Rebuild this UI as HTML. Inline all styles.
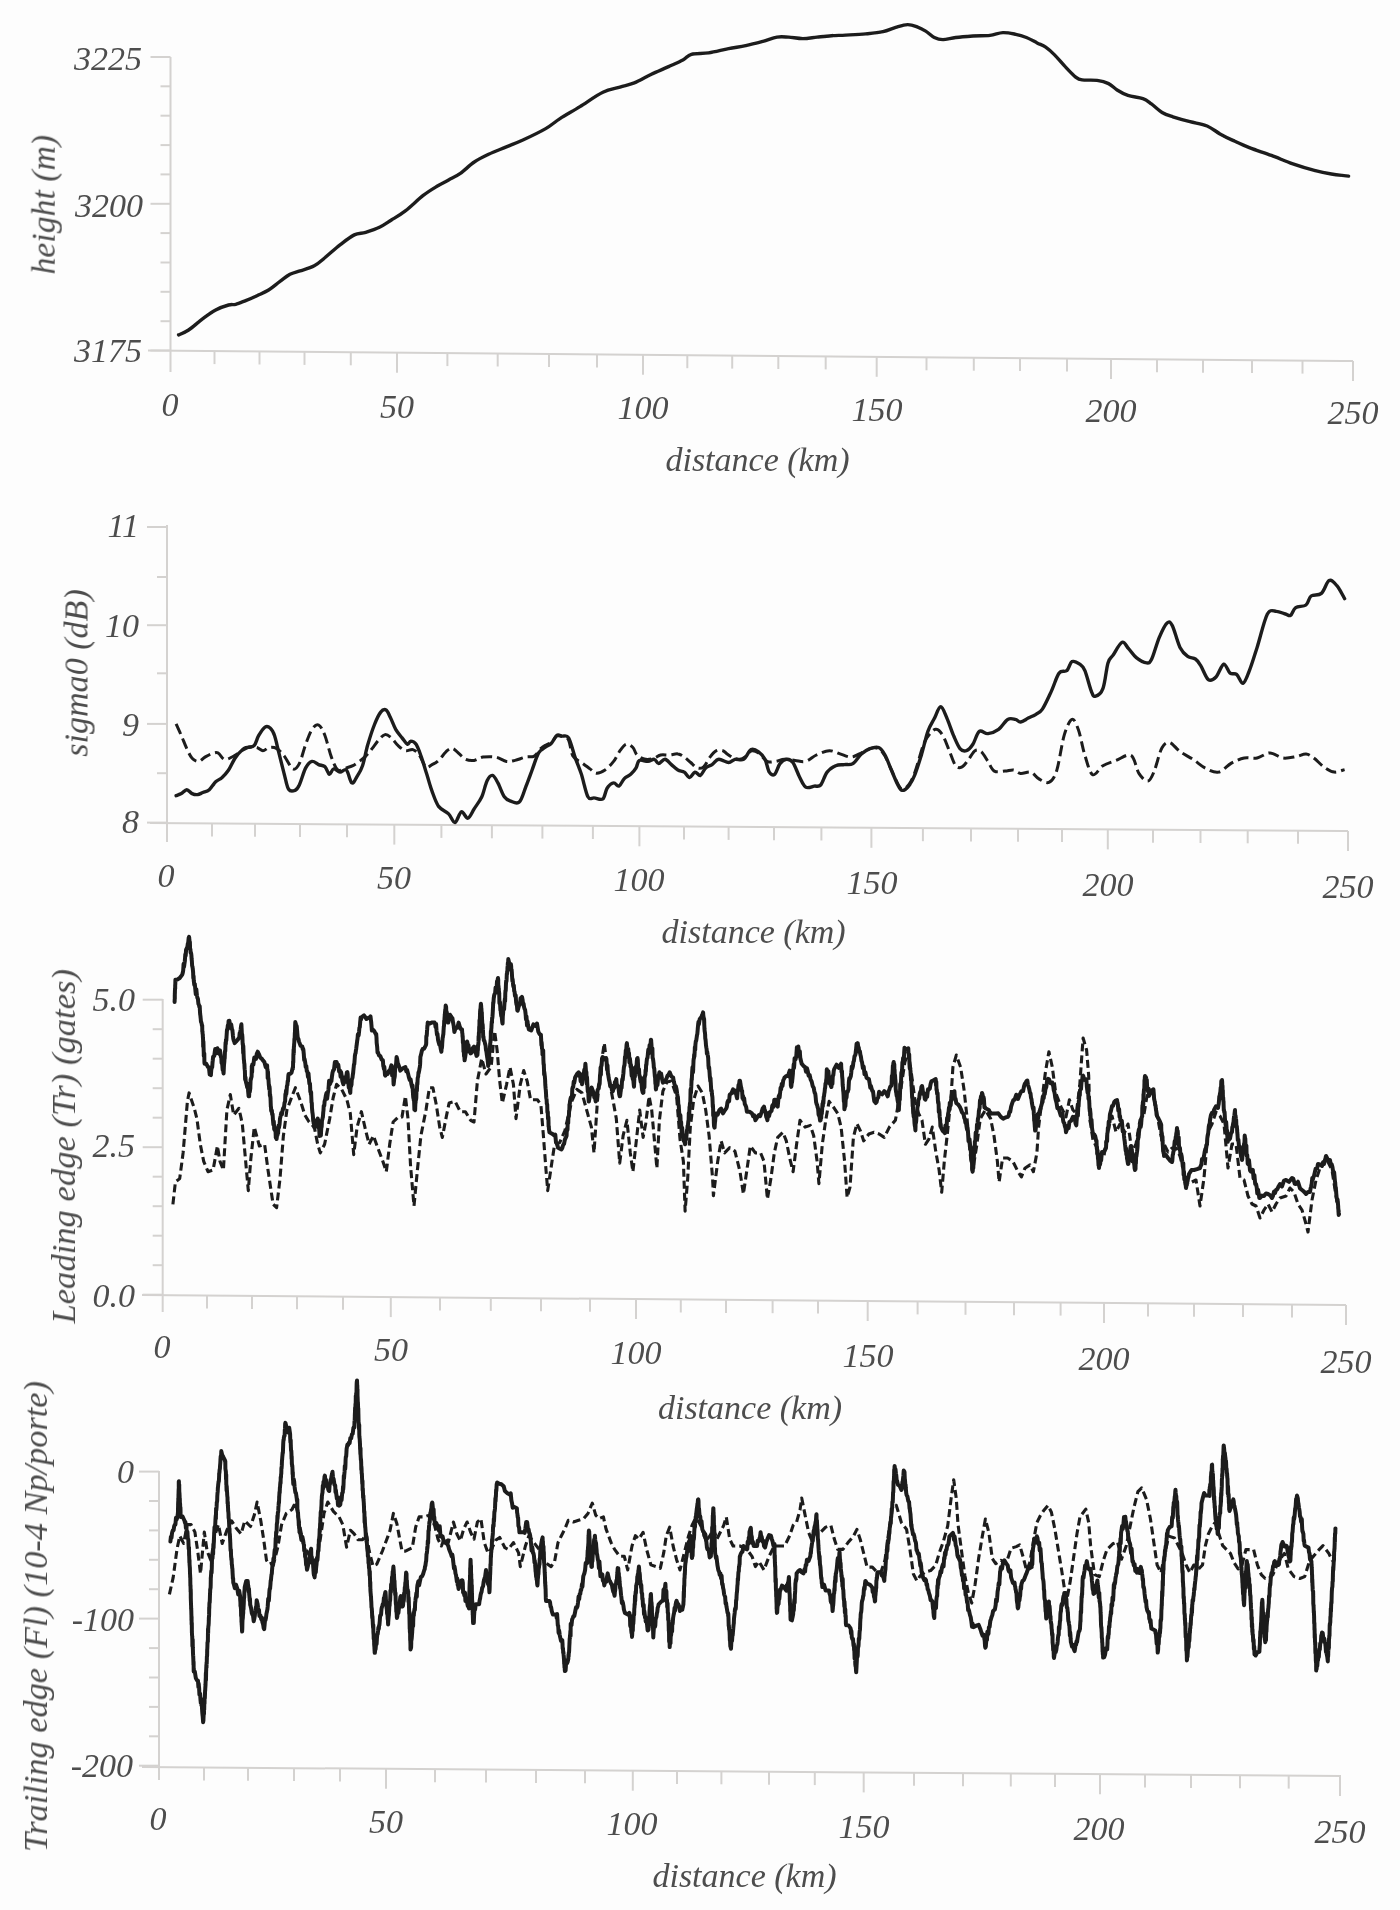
<!DOCTYPE html><html><head><meta charset="utf-8"><style>html,body{margin:0;padding:0;background:#fdfdfd;}svg{display:block}</style></head><body>
<svg width="1400" height="1910" viewBox="0 0 1400 1910">
<rect width="1400" height="1910" fill="#fdfdfd"/>
<defs><filter id="soft" x="-5%" y="-5%" width="110%" height="110%"><feGaussianBlur stdDeviation="0.45"/></filter></defs>
<g filter="url(#soft)">
<g stroke="#d4d2d0" stroke-width="2" fill="none">
<line x1="148" y1="350.5" x2="1353" y2="361"/>
<line x1="170.5" y1="57" x2="170.5" y2="372"/>
<line x1="150.5" y1="57.0" x2="170.5" y2="57.0"/>
<line x1="160.5" y1="86.3" x2="170.5" y2="86.3"/>
<line x1="160.5" y1="115.7" x2="170.5" y2="115.7"/>
<line x1="160.5" y1="145.1" x2="170.5" y2="145.1"/>
<line x1="160.5" y1="174.4" x2="170.5" y2="174.4"/>
<line x1="150.5" y1="203.8" x2="170.5" y2="203.8"/>
<line x1="160.5" y1="233.1" x2="170.5" y2="233.1"/>
<line x1="160.5" y1="262.5" x2="170.5" y2="262.5"/>
<line x1="160.5" y1="291.8" x2="170.5" y2="291.8"/>
<line x1="160.5" y1="321.2" x2="170.5" y2="321.2"/>
<line x1="150.5" y1="350.5" x2="170.5" y2="350.5"/>
<line x1="214.5" y1="351.1" x2="214.5" y2="364.1"/>
<line x1="259.5" y1="351.5" x2="259.5" y2="364.5"/>
<line x1="304.5" y1="351.9" x2="304.5" y2="364.9"/>
<line x1="350.8" y1="352.3" x2="350.8" y2="365.3"/>
<line x1="397.0" y1="352.7" x2="397.0" y2="372.7"/>
<line x1="447.4" y1="353.1" x2="447.4" y2="366.1"/>
<line x1="497.7" y1="353.5" x2="497.7" y2="366.5"/>
<line x1="549.0" y1="354.0" x2="549.0" y2="367.0"/>
<line x1="597.0" y1="354.4" x2="597.0" y2="367.4"/>
<line x1="643.0" y1="354.8" x2="643.0" y2="374.8"/>
<line x1="687.3" y1="355.2" x2="687.3" y2="368.2"/>
<line x1="732.2" y1="355.6" x2="732.2" y2="368.6"/>
<line x1="778.3" y1="356.0" x2="778.3" y2="369.0"/>
<line x1="825.7" y1="356.4" x2="825.7" y2="369.4"/>
<line x1="876.7" y1="356.8" x2="876.7" y2="376.8"/>
<line x1="926.5" y1="357.3" x2="926.5" y2="370.3"/>
<line x1="973.8" y1="357.7" x2="973.8" y2="370.7"/>
<line x1="1020.0" y1="358.1" x2="1020.0" y2="371.1"/>
<line x1="1067.0" y1="358.5" x2="1067.0" y2="371.5"/>
<line x1="1111.0" y1="358.9" x2="1111.0" y2="378.9"/>
<line x1="1157.0" y1="359.3" x2="1157.0" y2="372.3"/>
<line x1="1203.0" y1="359.7" x2="1203.0" y2="372.7"/>
<line x1="1252.0" y1="360.1" x2="1252.0" y2="373.1"/>
<line x1="1302.5" y1="360.6" x2="1302.5" y2="373.6"/>
<line x1="1353.0" y1="361.0" x2="1353.0" y2="381.0"/>
<line x1="150" y1="823" x2="1348" y2="831"/>
<line x1="167" y1="525" x2="167" y2="842"/>
<line x1="147" y1="527.0" x2="167" y2="527.0"/>
<line x1="157" y1="577.0" x2="167" y2="577.0"/>
<line x1="147" y1="625.2" x2="167" y2="625.2"/>
<line x1="157" y1="673.3" x2="167" y2="673.3"/>
<line x1="147" y1="723.9" x2="167" y2="723.9"/>
<line x1="157" y1="773.2" x2="167" y2="773.2"/>
<line x1="147" y1="822.6" x2="167" y2="822.6"/>
<line x1="212.0" y1="823.4" x2="212.0" y2="836.4"/>
<line x1="255.0" y1="823.7" x2="255.0" y2="836.7"/>
<line x1="300.0" y1="824.0" x2="300.0" y2="837.0"/>
<line x1="347.0" y1="824.3" x2="347.0" y2="837.3"/>
<line x1="394.3" y1="824.6" x2="394.3" y2="844.6"/>
<line x1="441.4" y1="824.9" x2="441.4" y2="837.9"/>
<line x1="491.9" y1="825.3" x2="491.9" y2="838.3"/>
<line x1="542.4" y1="825.6" x2="542.4" y2="838.6"/>
<line x1="592.9" y1="826.0" x2="592.9" y2="839.0"/>
<line x1="639.4" y1="826.3" x2="639.4" y2="846.3"/>
<line x1="684.0" y1="826.6" x2="684.0" y2="839.6"/>
<line x1="728.6" y1="826.9" x2="728.6" y2="839.9"/>
<line x1="774.0" y1="827.2" x2="774.0" y2="840.2"/>
<line x1="821.4" y1="827.5" x2="821.4" y2="840.5"/>
<line x1="871.4" y1="827.8" x2="871.4" y2="847.8"/>
<line x1="922.9" y1="828.2" x2="922.9" y2="841.2"/>
<line x1="971.0" y1="828.5" x2="971.0" y2="841.5"/>
<line x1="1018.0" y1="828.8" x2="1018.0" y2="841.8"/>
<line x1="1062.0" y1="829.1" x2="1062.0" y2="842.1"/>
<line x1="1107.8" y1="829.4" x2="1107.8" y2="849.4"/>
<line x1="1153.0" y1="829.7" x2="1153.0" y2="842.7"/>
<line x1="1200.5" y1="830.0" x2="1200.5" y2="843.0"/>
<line x1="1247.7" y1="830.3" x2="1247.7" y2="843.3"/>
<line x1="1298.0" y1="830.7" x2="1298.0" y2="843.7"/>
<line x1="1348.0" y1="831.0" x2="1348.0" y2="851.0"/>
<line x1="142" y1="1295" x2="1346" y2="1305"/>
<line x1="162.7" y1="999" x2="162.7" y2="1312"/>
<line x1="142.7" y1="999.7" x2="162.7" y2="999.7"/>
<line x1="152.7" y1="1029.2" x2="162.7" y2="1029.2"/>
<line x1="152.7" y1="1058.7" x2="162.7" y2="1058.7"/>
<line x1="152.7" y1="1088.2" x2="162.7" y2="1088.2"/>
<line x1="152.7" y1="1117.7" x2="162.7" y2="1117.7"/>
<line x1="142.7" y1="1147.2" x2="162.7" y2="1147.2"/>
<line x1="152.7" y1="1176.7" x2="162.7" y2="1176.7"/>
<line x1="152.7" y1="1206.2" x2="162.7" y2="1206.2"/>
<line x1="152.7" y1="1235.7" x2="162.7" y2="1235.7"/>
<line x1="152.7" y1="1265.2" x2="162.7" y2="1265.2"/>
<line x1="142.7" y1="1294.7" x2="162.7" y2="1294.7"/>
<line x1="207.0" y1="1295.5" x2="207.0" y2="1308.5"/>
<line x1="252.0" y1="1295.9" x2="252.0" y2="1308.9"/>
<line x1="297.0" y1="1296.3" x2="297.0" y2="1309.3"/>
<line x1="343.0" y1="1296.7" x2="343.0" y2="1309.7"/>
<line x1="390.8" y1="1297.1" x2="390.8" y2="1317.1"/>
<line x1="440.0" y1="1297.5" x2="440.0" y2="1310.5"/>
<line x1="490.8" y1="1297.9" x2="490.8" y2="1310.9"/>
<line x1="541.0" y1="1298.3" x2="541.0" y2="1311.3"/>
<line x1="590.0" y1="1298.7" x2="590.0" y2="1311.7"/>
<line x1="636.0" y1="1299.1" x2="636.0" y2="1319.1"/>
<line x1="680.8" y1="1299.5" x2="680.8" y2="1312.5"/>
<line x1="726.0" y1="1299.9" x2="726.0" y2="1312.9"/>
<line x1="772.6" y1="1300.2" x2="772.6" y2="1313.2"/>
<line x1="818.0" y1="1300.6" x2="818.0" y2="1313.6"/>
<line x1="867.7" y1="1301.0" x2="867.7" y2="1321.0"/>
<line x1="917.6" y1="1301.4" x2="917.6" y2="1314.4"/>
<line x1="965.5" y1="1301.8" x2="965.5" y2="1314.8"/>
<line x1="1014.0" y1="1302.2" x2="1014.0" y2="1315.2"/>
<line x1="1060.6" y1="1302.6" x2="1060.6" y2="1315.6"/>
<line x1="1104.0" y1="1303.0" x2="1104.0" y2="1323.0"/>
<line x1="1148.0" y1="1303.4" x2="1148.0" y2="1316.4"/>
<line x1="1194.0" y1="1303.7" x2="1194.0" y2="1316.7"/>
<line x1="1243.0" y1="1304.1" x2="1243.0" y2="1317.1"/>
<line x1="1292.0" y1="1304.6" x2="1292.0" y2="1317.6"/>
<line x1="1346.0" y1="1305.0" x2="1346.0" y2="1325.0"/>
<line x1="142" y1="1767" x2="1341" y2="1776"/>
<line x1="159" y1="1471" x2="159" y2="1780"/>
<line x1="139" y1="1471.6" x2="159" y2="1471.6"/>
<line x1="149" y1="1501.0" x2="159" y2="1501.0"/>
<line x1="149" y1="1530.4" x2="159" y2="1530.4"/>
<line x1="149" y1="1559.8" x2="159" y2="1559.8"/>
<line x1="149" y1="1589.2" x2="159" y2="1589.2"/>
<line x1="139" y1="1618.6" x2="159" y2="1618.6"/>
<line x1="149" y1="1648.1" x2="159" y2="1648.1"/>
<line x1="149" y1="1677.5" x2="159" y2="1677.5"/>
<line x1="149" y1="1706.9" x2="159" y2="1706.9"/>
<line x1="149" y1="1736.3" x2="159" y2="1736.3"/>
<line x1="139" y1="1765.7" x2="159" y2="1765.7"/>
<line x1="204.0" y1="1767.5" x2="204.0" y2="1780.5"/>
<line x1="248.0" y1="1767.8" x2="248.0" y2="1780.8"/>
<line x1="294.0" y1="1768.1" x2="294.0" y2="1781.1"/>
<line x1="340.0" y1="1768.5" x2="340.0" y2="1781.5"/>
<line x1="386.0" y1="1768.8" x2="386.0" y2="1788.8"/>
<line x1="435.0" y1="1769.2" x2="435.0" y2="1782.2"/>
<line x1="486.0" y1="1769.6" x2="486.0" y2="1782.6"/>
<line x1="536.0" y1="1770.0" x2="536.0" y2="1783.0"/>
<line x1="585.0" y1="1770.3" x2="585.0" y2="1783.3"/>
<line x1="632.8" y1="1770.7" x2="632.8" y2="1790.7"/>
<line x1="677.0" y1="1771.0" x2="677.0" y2="1784.0"/>
<line x1="721.4" y1="1771.3" x2="721.4" y2="1784.3"/>
<line x1="769.0" y1="1771.7" x2="769.0" y2="1784.7"/>
<line x1="814.8" y1="1772.1" x2="814.8" y2="1785.1"/>
<line x1="863.7" y1="1772.4" x2="863.7" y2="1792.4"/>
<line x1="914.0" y1="1772.8" x2="914.0" y2="1785.8"/>
<line x1="963.0" y1="1773.2" x2="963.0" y2="1786.2"/>
<line x1="1010.8" y1="1773.5" x2="1010.8" y2="1786.5"/>
<line x1="1055.0" y1="1773.9" x2="1055.0" y2="1786.9"/>
<line x1="1100.0" y1="1774.2" x2="1100.0" y2="1794.2"/>
<line x1="1145.0" y1="1774.5" x2="1145.0" y2="1787.5"/>
<line x1="1191.0" y1="1774.9" x2="1191.0" y2="1787.9"/>
<line x1="1240.0" y1="1775.2" x2="1240.0" y2="1788.2"/>
<line x1="1288.7" y1="1775.6" x2="1288.7" y2="1788.6"/>
<line x1="1340.0" y1="1776.0" x2="1340.0" y2="1796.0"/>
</g>
<g font-family="Liberation Serif" font-style="italic" font-size="34" fill="#4d4d4d">
<text x="142" y="70" text-anchor="end">3225</text>
<text x="143" y="217" text-anchor="end">3200</text>
<text x="142" y="362" text-anchor="end">3175</text>
<text x="170" y="416.0" text-anchor="middle">0</text>
<text x="397" y="417.6" text-anchor="middle">50</text>
<text x="643" y="419.2" text-anchor="middle">100</text>
<text x="877" y="420.8" text-anchor="middle">150</text>
<text x="1111" y="422.4" text-anchor="middle">200</text>
<text x="1353" y="424.0" text-anchor="middle">250</text>
<text x="757.5" y="471" text-anchor="middle">distance (km)</text>
<text transform="translate(54.7,204.7) rotate(-90)" text-anchor="middle" textLength="139.5" lengthAdjust="spacingAndGlyphs">height (m)</text>
<text x="139" y="537" text-anchor="end">11</text>
<text x="139" y="637" text-anchor="end">10</text>
<text x="139" y="736" text-anchor="end">9</text>
<text x="139" y="833" text-anchor="end">8</text>
<text x="166" y="887.0" text-anchor="middle">0</text>
<text x="394" y="889.2" text-anchor="middle">50</text>
<text x="639" y="891.4" text-anchor="middle">100</text>
<text x="872" y="893.6" text-anchor="middle">150</text>
<text x="1108" y="895.8" text-anchor="middle">200</text>
<text x="1348" y="898.0" text-anchor="middle">250</text>
<text x="753.6" y="943" text-anchor="middle">distance (km)</text>
<text transform="translate(87.5,673) rotate(-90)" text-anchor="middle" textLength="167.6" lengthAdjust="spacingAndGlyphs">sigma0 (dB)</text>
<text x="135" y="1010.5" text-anchor="end">5.0</text>
<text x="135" y="1157" text-anchor="end">2.5</text>
<text x="135" y="1306.5" text-anchor="end">0.0</text>
<text x="162" y="1357.5" text-anchor="middle">0</text>
<text x="391" y="1360.6" text-anchor="middle">50</text>
<text x="636" y="1363.7" text-anchor="middle">100</text>
<text x="868" y="1366.8" text-anchor="middle">150</text>
<text x="1104" y="1369.9" text-anchor="middle">200</text>
<text x="1346" y="1373.0" text-anchor="middle">250</text>
<text x="750" y="1419" text-anchor="middle">distance (km)</text>
<text transform="translate(75,1146.3) rotate(-90)" text-anchor="middle" textLength="354.5" lengthAdjust="spacingAndGlyphs">Leading edge (Tr) (gates)</text>
<text x="134" y="1482.5" text-anchor="end">0</text>
<text x="134" y="1631" text-anchor="end">-100</text>
<text x="133" y="1776.5" text-anchor="end">-200</text>
<text x="158" y="1830.0" text-anchor="middle">0</text>
<text x="386" y="1832.6" text-anchor="middle">50</text>
<text x="632" y="1835.2" text-anchor="middle">100</text>
<text x="864" y="1837.8" text-anchor="middle">150</text>
<text x="1099" y="1840.4" text-anchor="middle">200</text>
<text x="1340" y="1843.0" text-anchor="middle">250</text>
<text x="744.5" y="1887" text-anchor="middle">distance (km)</text>
<text transform="translate(47,1616.5) rotate(-90)" text-anchor="middle" textLength="471" lengthAdjust="spacingAndGlyphs">Trailing edge (Fl) (10-4 Np/porte)</text>
</g>
<g fill="none" stroke="#1c1c1c" stroke-linejoin="round" stroke-linecap="round">
<path stroke-width="3.4" d="M178.6,334.9 C180.3,334.1 184.5,332.7 188.6,330.0 C192.7,327.3 198.4,321.9 202.9,318.6 C207.4,315.3 211.4,312.3 215.7,310.0 C220.0,307.7 225.3,305.9 228.6,305.0 C231.9,304.1 232.8,305.0 235.7,304.3 C238.5,303.6 242.1,302.0 245.7,300.6 C249.2,299.2 253.2,297.5 257.0,295.7 C260.8,293.9 264.8,292.4 268.6,290.0 C272.4,287.6 276.4,284.0 280.0,281.4 C283.6,278.8 286.7,276.1 290.0,274.3 C293.3,272.6 295.9,272.3 300.0,270.9 C304.1,269.5 310.0,268.0 314.3,265.7 C318.6,263.4 321.4,260.5 325.7,257.0 C330.0,253.5 335.2,248.6 340.0,244.9 C344.8,241.2 350.0,237.0 354.3,234.9 C358.6,232.8 361.4,233.6 365.7,232.3 C370.0,231.0 375.7,229.1 380.0,227.0 C384.3,224.9 387.1,222.7 391.4,220.0 C395.7,217.3 400.4,214.7 405.7,210.6 C410.9,206.5 417.7,199.8 422.9,195.7 C428.1,191.6 432.7,188.9 437.0,186.3 C441.3,183.7 444.8,182.1 448.6,180.0 C452.4,177.9 455.7,176.7 460.0,173.7 C464.3,170.7 469.5,165.2 474.3,162.0 C479.1,158.8 483.4,156.8 488.6,154.3 C493.8,151.8 500.0,149.5 505.7,147.1 C511.4,144.7 516.2,143.1 522.9,140.0 C529.6,136.9 539.5,132.2 545.7,128.6 C551.9,125.0 554.3,122.3 560.0,118.6 C565.7,114.9 572.9,111.0 580.0,106.6 C587.1,102.2 596.2,95.5 602.9,92.3 C609.6,89.0 614.8,88.7 620.0,87.1 C625.2,85.5 629.1,85.0 634.3,82.9 C639.5,80.8 645.7,77.0 651.4,74.3 C657.1,71.6 663.4,69.0 668.6,66.6 C673.9,64.2 679.1,62.0 682.9,60.0 C686.7,58.0 687.1,55.5 691.4,54.3 C695.7,53.1 702.4,53.8 708.6,52.9 C714.8,52.0 722.4,49.8 728.6,48.6 C734.8,47.4 740.0,46.9 745.7,45.7 C751.4,44.5 757.7,42.8 762.9,41.4 C768.1,40.0 772.7,37.8 777.0,37.1 C781.3,36.4 784.3,36.9 788.6,37.1 C792.9,37.4 798.2,38.6 802.9,38.6 C807.6,38.6 812.2,37.6 817.0,37.1 C821.8,36.6 826.6,36.0 831.4,35.7 C836.2,35.4 840.0,35.4 845.7,35.1 C851.4,34.8 859.5,34.5 865.7,33.9 C871.9,33.3 877.9,32.8 882.9,31.7 C887.9,30.6 891.6,28.6 895.7,27.4 C899.8,26.2 903.9,24.7 907.5,24.6 C911.1,24.5 914.1,25.7 917.1,26.8 C920.1,27.9 922.8,29.3 925.7,31.1 C928.6,32.9 931.4,36.1 934.3,37.5 C937.2,38.9 939.3,39.6 942.9,39.6 C946.5,39.6 950.7,38.1 955.7,37.5 C960.7,36.9 967.2,36.4 972.9,36.0 C978.6,35.6 985.0,36.0 990.0,35.4 C995.0,34.8 998.6,32.8 1002.9,32.6 C1007.2,32.4 1011.8,33.5 1015.7,34.3 C1019.6,35.1 1022.8,36.1 1026.4,37.5 C1030.0,38.9 1033.9,41.3 1037.1,42.9 C1040.3,44.5 1042.8,45.1 1045.7,47.1 C1048.6,49.1 1051.1,51.4 1054.3,54.6 C1057.5,57.8 1061.4,62.7 1065.0,66.4 C1068.6,70.2 1072.9,74.8 1075.7,77.1 C1078.5,79.3 1078.5,79.4 1082.1,79.9 C1085.7,80.5 1092.7,79.8 1097.1,80.4 C1101.5,81.0 1105.3,82.0 1108.6,83.6 C1111.9,85.2 1113.9,88.0 1117.1,90.0 C1120.3,92.0 1123.6,94.0 1127.9,95.4 C1132.2,96.8 1139.0,97.2 1142.9,98.6 C1146.8,100.0 1148.2,101.6 1151.4,103.9 C1154.6,106.2 1158.5,110.3 1162.1,112.5 C1165.7,114.7 1168.2,115.3 1172.9,116.8 C1177.6,118.3 1184.3,120.2 1190.0,121.7 C1195.7,123.2 1202.1,124.0 1207.1,126.0 C1212.1,128.0 1215.7,131.5 1220.0,133.9 C1224.3,136.3 1227.9,138.1 1232.9,140.4 C1237.9,142.7 1243.6,145.4 1250.0,147.9 C1256.4,150.4 1264.2,152.7 1271.4,155.4 C1278.6,158.1 1285.8,161.4 1292.9,163.9 C1300.1,166.4 1307.9,168.7 1314.3,170.4 C1320.7,172.1 1325.7,173.1 1331.4,174.0 C1337.1,174.9 1345.7,175.8 1348.6,176.1"/>
<path stroke-width="3.4" d="M176.1,795.7 C177.0,795.4 179.6,794.6 181.4,793.6 C183.2,792.6 185.0,789.7 186.8,789.7 C188.6,789.7 190.3,792.8 192.1,793.6 C193.9,794.4 195.7,794.8 197.5,794.6 C199.3,794.4 200.9,793.3 202.9,792.5 C204.9,791.7 207.2,791.5 209.3,789.7 C211.4,787.9 213.6,783.8 215.7,781.8 C217.8,779.8 219.9,779.5 222.1,777.5 C224.2,775.5 226.4,773.2 228.6,770.0 C230.8,766.8 232.9,761.4 235.0,758.2 C237.1,755.0 239.2,752.5 241.4,750.7 C243.6,748.9 245.8,748.4 247.9,747.5 C250.1,746.6 252.5,747.4 254.3,745.4 C256.1,743.4 256.8,738.8 258.6,735.7 C260.4,732.7 263.0,728.4 265.0,727.1 C267.0,725.9 268.8,726.8 270.4,728.2 C272.0,729.6 273.2,731.6 274.6,735.7 C276.0,739.8 277.3,746.5 278.9,752.9 C280.5,759.3 282.7,768.2 284.3,774.3 C285.9,780.4 286.8,786.6 288.6,789.3 C290.4,792.0 293.2,791.1 295.0,790.4 C296.8,789.7 297.5,788.8 299.3,785.0 C301.1,781.2 303.6,771.8 305.7,767.9 C307.8,764.0 310.0,761.9 312.1,761.4 C314.2,760.9 316.5,763.7 318.6,764.6 C320.8,765.5 323.2,765.2 325.0,766.8 C326.8,768.4 327.9,773.9 329.3,774.3 C330.7,774.6 331.8,769.3 333.6,768.9 C335.4,768.5 337.9,771.9 340.0,772.1 C342.1,772.3 344.4,768.2 346.4,770.0 C348.4,771.8 350.0,781.8 351.8,782.9 C353.6,784.0 355.3,779.3 357.1,776.4 C358.9,773.5 360.7,771.1 362.5,765.7 C364.3,760.4 365.9,751.1 367.9,744.3 C369.9,737.5 372.2,730.4 374.3,725.0 C376.4,719.6 378.7,714.6 380.7,712.1 C382.7,709.6 384.5,709.1 386.1,710.0 C387.7,710.9 388.8,714.3 390.4,717.5 C392.0,720.7 393.8,725.9 395.7,729.3 C397.6,732.7 400.1,735.4 402.1,737.9 C404.1,740.4 406.1,743.8 407.5,744.3 C408.9,744.8 409.3,741.1 410.7,741.1 C412.1,741.1 414.3,741.6 416.1,744.3 C417.9,747.0 419.6,752.1 421.4,757.1 C423.2,762.1 425.0,768.6 426.8,774.3 C428.6,780.0 430.1,786.0 432.1,791.4 C434.1,796.8 435.9,802.6 438.6,806.4 C441.4,810.1 445.9,811.2 448.6,813.9 C451.3,816.6 452.9,822.9 455.0,822.5 C457.1,822.1 459.2,812.5 461.4,811.8 C463.5,811.1 465.8,818.7 467.9,818.2 C470.0,817.7 472.0,812.2 474.3,808.6 C476.6,805.0 479.7,801.4 481.8,796.8 C483.9,792.1 485.3,784.3 487.1,780.7 C488.9,777.1 490.7,775.0 492.5,775.4 C494.3,775.8 495.9,779.3 497.9,782.9 C499.9,786.5 502.2,793.8 504.3,796.8 C506.4,799.8 508.2,800.2 510.7,801.1 C513.2,802.0 516.8,804.4 519.3,802.1 C521.8,799.8 523.6,792.5 525.7,787.1 C527.8,781.8 530.0,775.7 532.1,770.0 C534.2,764.3 536.5,756.6 538.6,752.9 C540.8,749.1 542.9,749.1 545.0,747.5 C547.1,745.9 549.4,745.2 551.4,743.2 C553.4,741.2 555.0,736.5 556.8,735.3 C558.6,734.1 560.1,735.7 562.1,736.1 C564.1,736.5 566.5,734.4 568.6,737.9 C570.8,741.4 572.9,751.0 575.0,757.1 C577.1,763.2 579.2,767.7 581.4,774.3 C583.5,780.9 585.8,792.9 587.9,796.8 C590.0,800.7 591.8,797.5 594.3,797.9 C596.8,798.2 600.8,800.5 602.9,798.9 C605.0,797.3 605.3,790.9 607.1,788.2 C608.9,785.5 611.6,783.2 613.6,782.9 C615.6,782.5 617.1,786.8 618.9,786.1 C620.7,785.4 622.3,780.6 624.3,778.6 C626.3,776.6 628.7,776.1 630.7,774.3 C632.7,772.5 634.7,770.2 636.1,767.9 C637.5,765.6 637.3,761.5 639.3,760.4 C641.3,759.3 645.4,761.6 647.9,761.4 C650.4,761.2 652.5,758.9 654.3,759.3 C656.1,759.7 656.8,763.6 658.6,763.6 C660.4,763.6 662.9,759.1 665.0,759.3 C667.1,759.5 669.2,762.8 671.4,764.6 C673.5,766.4 675.8,768.8 677.9,770.0 C680.0,771.2 682.3,770.9 684.3,772.1 C686.2,773.4 687.8,777.5 689.6,777.5 C691.4,777.5 693.2,772.5 695.0,772.1 C696.8,771.8 698.6,776.1 700.4,775.4 C702.2,774.7 703.8,769.7 705.7,767.9 C707.7,766.1 710.0,766.0 712.1,764.6 C714.2,763.2 715.9,759.6 718.6,759.3 C721.4,758.9 725.9,762.5 728.6,762.5 C731.3,762.5 732.5,759.8 735.0,759.3 C737.5,758.8 740.9,760.9 743.6,759.3 C746.3,757.7 748.6,750.9 751.1,749.6 C753.6,748.4 756.3,750.2 758.6,751.8 C760.9,753.4 763.2,755.9 765.0,759.3 C766.8,762.7 767.7,769.6 769.3,772.1 C770.9,774.6 772.8,775.7 774.6,774.3 C776.4,772.9 778.0,766.1 780.0,763.6 C782.0,761.1 784.2,759.5 786.4,759.3 C788.5,759.1 790.8,759.6 792.9,762.5 C795.0,765.4 797.2,772.3 799.3,776.4 C801.4,780.5 803.2,785.5 805.7,787.1 C808.2,788.7 811.8,786.5 814.3,786.1 C816.8,785.8 818.6,787.3 820.7,785.0 C822.8,782.7 824.6,775.3 827.1,772.1 C829.6,768.9 832.8,767.0 835.7,765.7 C838.6,764.5 841.4,765.0 844.3,764.6 C847.2,764.2 850.0,765.4 852.9,763.6 C855.8,761.8 858.5,756.4 861.4,753.9 C864.2,751.4 867.1,749.7 870.0,748.6 C872.9,747.5 876.1,746.4 878.6,747.5 C881.1,748.6 882.9,751.2 885.0,755.0 C887.1,758.8 889.2,765.0 891.4,770.0 C893.5,775.0 896.1,781.6 897.9,785.0 C899.7,788.4 900.3,790.2 902.1,790.4 C903.9,790.6 906.5,788.8 908.6,786.1 C910.8,783.4 912.9,779.5 915.0,774.3 C917.1,769.1 919.2,762.1 921.4,755.0 C923.5,747.9 925.8,737.5 927.9,731.4 C930.0,725.3 932.2,722.7 934.3,718.6 C936.4,714.5 938.6,706.8 940.7,706.8 C942.8,706.8 945.0,713.8 947.1,718.6 C949.2,723.4 951.5,730.7 953.6,735.7 C955.8,740.7 957.9,746.1 960.0,748.6 C962.1,751.1 964.2,751.4 966.4,750.7 C968.5,750.0 970.8,747.5 972.9,744.3 C975.0,741.1 976.8,733.2 979.3,731.4 C981.8,729.6 984.7,734.0 987.9,733.6 C991.1,733.2 995.3,731.7 998.6,729.3 C1001.9,726.9 1004.9,721.0 1007.7,719.4 C1010.5,717.8 1013.2,719.0 1015.4,719.4 C1017.5,719.8 1018.5,722.2 1020.6,722.0 C1022.8,721.8 1025.7,719.4 1028.3,718.1 C1030.9,716.8 1033.7,715.8 1036.0,714.3 C1038.3,712.8 1039.8,713.0 1042.4,709.1 C1045.0,705.2 1048.6,697.1 1051.4,691.1 C1054.2,685.1 1056.5,676.5 1059.1,673.1 C1061.7,669.7 1064.8,672.5 1066.9,670.6 C1069.1,668.7 1069.9,662.7 1072.0,661.6 C1074.1,660.5 1077.5,662.6 1079.7,664.1 C1081.9,665.6 1083.0,666.1 1084.9,670.6 C1086.8,675.1 1089.6,686.8 1091.3,691.1 C1093.0,695.4 1093.2,696.7 1095.1,696.3 C1097.0,695.9 1100.8,694.2 1102.9,688.6 C1105.1,683.0 1106.3,668.5 1108.0,662.9 C1109.7,657.3 1110.8,658.5 1113.1,655.1 C1115.4,651.7 1119.5,643.4 1122.1,642.3 C1124.7,641.2 1126.2,646.1 1128.6,648.7 C1131.0,651.3 1133.3,655.3 1136.3,657.7 C1139.3,660.1 1144.0,662.7 1146.6,662.9 C1149.2,663.1 1149.6,663.3 1151.7,659.0 C1153.8,654.7 1156.8,643.1 1159.4,637.1 C1162.0,631.1 1164.9,624.9 1167.1,623.0 C1169.2,621.1 1170.1,621.5 1172.3,625.6 C1174.5,629.7 1177.4,642.3 1180.0,647.4 C1182.6,652.5 1185.1,654.5 1187.7,656.4 C1190.3,658.3 1193.2,657.5 1195.4,659.0 C1197.6,660.5 1198.4,662.0 1200.6,665.4 C1202.8,668.8 1205.7,677.7 1208.3,679.6 C1210.9,681.5 1213.4,679.6 1216.0,677.0 C1218.6,674.4 1221.4,664.8 1223.7,664.1 C1226.0,663.5 1227.9,671.4 1230.1,673.1 C1232.2,674.8 1234.4,672.7 1236.6,674.4 C1238.8,676.1 1240.9,684.0 1243.0,683.4 C1245.1,682.8 1247.1,676.6 1249.4,670.6 C1251.8,664.6 1254.1,656.8 1257.1,647.4 C1260.1,638.0 1264.2,620.0 1267.4,614.0 C1270.6,608.0 1273.4,611.4 1276.4,611.4 C1279.4,611.4 1283.0,613.4 1285.4,614.0 C1287.8,614.6 1288.9,616.4 1290.6,615.3 C1292.3,614.2 1293.1,609.3 1295.7,607.6 C1298.3,605.9 1303.4,606.9 1306.0,605.0 C1308.6,603.1 1308.5,597.9 1311.1,596.0 C1313.7,594.1 1318.4,596.0 1321.4,593.4 C1324.4,590.8 1326.5,581.9 1329.1,580.6 C1331.7,579.3 1334.3,582.7 1336.9,585.7 C1339.5,588.7 1343.3,596.5 1344.6,598.6"/>
<polyline stroke-width="4" points="174.6,1002.0 174.7,999.2 174.8,998.7 174.8,994.8 174.9,992.4 175.0,988.8 175.1,988.2 175.2,988.8 175.2,985.1 175.3,984.2 175.4,979.7 177.6,979.4 179.7,978.0 182.3,974.6 182.7,973.1 183.2,970.3 183.6,963.8 184.0,967.0 184.4,963.9 184.8,961.5 185.3,954.3 185.7,955.7 186.1,949.5 186.5,949.0 187.0,947.6 187.4,947.0 187.8,943.8 188.2,942.7 188.7,937.8 189.1,936.9 189.4,939.8 189.6,942.2 189.9,942.0 190.1,949.5 190.4,949.1 190.6,952.7 190.9,952.3 191.1,953.3 191.4,955.3 191.6,958.5 191.9,961.4 192.1,965.3 192.4,966.8 192.6,967.6 192.8,968.8 193.1,972.1 193.3,978.3 193.6,976.1 193.8,980.8 194.1,983.5 194.3,984.9 194.8,983.8 195.3,989.4 195.8,994.4 196.3,989.3 196.9,995.3 197.4,998.0 197.9,998.6 198.4,1003.8 198.9,1004.7 199.4,1007.1 199.7,1006.2 200.1,1013.6 200.4,1015.7 200.7,1018.6 201.0,1022.1 201.3,1022.1 201.7,1023.9 202.0,1026.0 202.2,1025.4 202.3,1031.8 202.5,1031.3 202.6,1033.9 202.8,1034.3 202.9,1037.2 203.1,1040.4 203.2,1046.6 203.4,1041.5 203.5,1045.0 203.7,1050.9 203.8,1055.8 204.0,1056.1 204.1,1052.9 204.3,1053.7 204.4,1062.3 204.6,1063.7 206.3,1063.8 208.0,1067.1 208.9,1067.2 209.7,1074.5 210.6,1074.9 210.9,1075.1 211.2,1070.7 211.5,1068.7 211.8,1066.9 212.2,1067.2 212.5,1062.8 212.8,1060.3 213.1,1056.9 214.2,1056.0 215.2,1049.1 216.3,1053.3 217.4,1048.3 218.3,1052.6 219.2,1053.8 220.0,1050.4 220.9,1056.9 221.3,1057.7 221.6,1063.2 222.0,1059.5 222.3,1065.3 222.7,1070.1 223.0,1067.2 223.4,1072.3 223.6,1073.5 223.8,1068.9 224.0,1065.0 224.1,1063.7 224.3,1062.1 224.5,1058.6 224.7,1058.5 224.9,1052.2 225.1,1050.4 225.3,1051.3 225.4,1046.7 225.6,1042.4 225.8,1044.1 226.0,1039.7 226.3,1040.6 226.7,1034.0 227.0,1029.6 227.3,1030.0 227.6,1027.6 227.9,1024.9 228.3,1026.3 228.6,1020.9 229.4,1020.8 230.3,1027.9 231.2,1024.5 232.0,1029.4 232.4,1030.0 232.9,1035.4 233.3,1038.7 233.7,1040.4 234.2,1041.6 234.6,1043.1 236.0,1041.7 237.5,1040.0 238.9,1038.0 239.3,1037.0 239.7,1033.0 240.2,1031.8 240.6,1030.1 241.0,1026.6 241.4,1024.3 241.6,1028.2 241.7,1030.0 241.9,1035.5 242.1,1034.0 242.2,1034.6 242.4,1037.0 242.5,1040.0 242.7,1044.3 242.9,1043.8 243.0,1047.6 243.2,1053.1 243.3,1045.7 243.5,1051.1 243.7,1056.3 243.8,1058.9 244.0,1060.3 244.2,1063.1 244.4,1063.9 244.6,1068.6 244.8,1070.1 244.9,1070.6 245.1,1079.4 245.3,1077.1 245.5,1077.4 245.7,1080.9 246.2,1082.9 246.7,1084.8 247.2,1087.4 247.6,1083.7 248.1,1090.8 248.6,1096.3 249.1,1096.3 249.3,1091.5 249.6,1091.7 249.8,1091.8 250.1,1089.4 250.3,1088.5 250.6,1079.3 250.8,1080.1 251.1,1077.9 251.3,1077.8 251.6,1076.6 251.8,1066.1 252.1,1072.2 252.3,1064.4 252.6,1065.4 253.4,1064.6 254.3,1057.6 255.1,1058.9 256.0,1058.9 256.8,1053.7 257.7,1051.7 259.0,1054.3 260.3,1057.8 261.6,1058.5 262.9,1060.3 264.3,1061.8 265.7,1067.1 267.1,1065.4 267.3,1069.9 267.5,1069.2 267.7,1078.1 268.0,1071.8 268.2,1078.6 268.4,1078.2 268.6,1081.3 268.8,1084.8 269.0,1086.0 269.2,1089.1 269.5,1086.6 269.7,1088.8 269.9,1095.7 270.1,1094.5 270.3,1096.6 270.5,1097.8 270.8,1106.1 271.0,1107.2 271.2,1111.0 271.4,1110.0 271.8,1110.2 272.2,1114.5 272.6,1114.2 273.0,1120.6 273.4,1124.7 273.8,1121.5 274.2,1129.1 274.6,1130.1 275.0,1129.8 275.4,1128.0 275.8,1137.7 276.2,1136.6 276.6,1139.1 277.0,1135.5 277.4,1135.4 277.7,1133.2 278.1,1133.3 278.5,1125.5 278.9,1127.9 279.2,1126.4 279.6,1124.1 280.0,1118.6 280.6,1116.1 281.3,1112.7 281.9,1114.4 282.6,1110.3 283.2,1108.1 283.8,1108.8 284.5,1103.0 285.1,1101.4 285.4,1094.1 285.7,1096.0 286.0,1090.5 286.3,1094.1 286.6,1090.7 286.9,1086.4 287.1,1085.4 287.4,1085.0 287.7,1081.0 288.0,1081.5 288.3,1076.1 288.6,1074.0 290.0,1074.0 291.5,1072.7 292.9,1067.1 293.0,1068.4 293.1,1061.2 293.3,1062.4 293.4,1054.1 293.5,1053.6 293.6,1049.4 293.8,1053.9 293.9,1046.6 294.0,1047.0 294.1,1044.4 294.3,1042.6 294.4,1039.1 294.5,1038.7 294.6,1039.9 294.8,1033.8 294.9,1032.7 295.0,1031.5 295.1,1026.6 295.3,1022.1 295.4,1022.6 295.8,1023.7 296.3,1029.7 296.7,1026.0 297.1,1030.7 297.6,1036.6 298.0,1038.4 298.5,1039.1 298.9,1041.4 300.6,1045.8 302.3,1046.6 302.7,1049.2 303.1,1048.6 303.4,1050.0 303.8,1054.3 304.2,1060.0 304.6,1059.0 304.9,1060.6 305.3,1063.1 305.7,1067.1 306.3,1066.0 306.8,1071.4 307.4,1071.4 308.0,1077.1 308.5,1073.4 309.1,1080.9 309.4,1083.9 309.7,1084.1 310.0,1083.5 310.3,1091.6 310.6,1091.7 310.9,1094.6 311.1,1092.0 311.3,1097.4 311.5,1102.3 311.8,1103.0 312.0,1108.1 312.2,1110.3 312.4,1112.5 312.6,1113.4 312.9,1116.4 313.2,1120.9 313.5,1121.7 313.7,1123.5 314.0,1120.2 314.3,1127.1 315.1,1126.9 316.0,1125.7 316.9,1120.1 317.7,1118.6 318.1,1120.0 318.4,1127.8 318.8,1122.1 319.2,1129.4 319.6,1136.1 319.9,1131.2 320.3,1135.7 320.6,1134.9 320.9,1135.3 321.2,1128.6 321.4,1127.8 321.7,1126.3 322.0,1120.0 322.3,1119.5 322.6,1118.1 322.9,1116.9 323.2,1112.8 323.5,1110.1 323.7,1106.0 324.0,1105.2 324.3,1105.6 324.6,1101.4 325.2,1099.5 325.9,1095.2 326.5,1093.1 327.1,1098.7 327.8,1093.2 328.4,1090.0 329.1,1080.7 329.7,1084.3 330.3,1083.4 330.8,1080.8 331.4,1081.2 332.0,1076.1 332.5,1072.7 333.1,1070.6 334.0,1069.6 334.9,1062.0 335.7,1066.4 336.6,1062.0 337.5,1064.9 338.3,1064.8 339.1,1071.4 340.0,1070.6 340.6,1076.9 341.1,1072.1 341.7,1076.0 342.3,1080.4 342.8,1082.4 343.4,1084.3 344.1,1081.0 344.8,1077.4 345.5,1081.8 346.2,1077.0 346.9,1072.3 347.3,1072.0 347.7,1073.9 348.0,1082.9 348.4,1083.6 348.8,1087.8 349.2,1087.8 349.5,1086.4 349.9,1091.2 350.3,1092.9 350.6,1085.8 350.9,1086.6 351.2,1085.7 351.5,1084.7 351.8,1079.6 352.2,1078.6 352.5,1077.5 352.8,1075.0 353.1,1073.2 353.4,1069.9 353.7,1067.1 354.0,1064.1 354.3,1064.2 354.6,1060.2 354.9,1055.9 355.2,1054.0 355.6,1053.1 355.9,1050.5 356.2,1048.8 356.5,1046.1 356.8,1044.1 357.1,1041.4 357.5,1038.9 357.9,1034.3 358.3,1035.8 358.7,1035.0 359.1,1031.4 359.4,1027.9 359.8,1027.1 360.2,1021.8 360.6,1017.6 361.0,1019.7 361.4,1017.4 364.0,1015.4 366.5,1019.0 369.1,1017.4 369.8,1017.4 370.5,1016.4 371.2,1022.3 371.9,1030.5 372.6,1029.4 374.3,1031.2 376.0,1034.6 376.2,1034.0 376.5,1037.8 376.7,1043.1 377.0,1045.5 377.2,1047.2 377.5,1052.5 377.7,1051.7 379.0,1055.4 380.3,1056.0 381.6,1059.5 382.9,1060.3 383.3,1066.1 383.6,1066.8 384.0,1069.2 384.3,1066.7 384.7,1071.0 385.0,1075.1 385.4,1075.7 386.6,1073.0 387.8,1073.9 389.0,1070.8 390.2,1069.5 391.4,1065.4 391.8,1067.1 392.1,1075.4 392.5,1074.8 392.9,1073.8 393.3,1076.7 393.6,1084.4 394.0,1080.9 394.3,1077.7 394.5,1078.0 394.8,1075.9 395.0,1071.3 395.3,1066.3 395.6,1066.9 395.8,1064.9 396.1,1064.2 396.3,1061.0 396.6,1056.9 397.2,1059.2 397.8,1063.3 398.5,1064.9 399.1,1066.5 399.7,1068.4 400.3,1070.6 402.9,1068.3 405.4,1067.1 406.3,1071.2 407.1,1069.9 408.0,1073.4 408.9,1077.4 409.8,1080.0 410.6,1079.3 411.4,1084.2 412.3,1087.7 412.6,1085.5 412.8,1090.7 413.1,1095.6 413.3,1097.9 413.6,1098.7 413.9,1100.6 414.1,1100.2 414.4,1109.6 414.6,1108.9 414.9,1110.0 415.1,1110.1 415.4,1103.4 415.6,1102.6 415.8,1096.7 416.0,1100.0 416.3,1098.0 416.5,1089.5 416.7,1091.2 416.9,1090.4 417.2,1082.8 417.4,1084.3 417.7,1078.0 417.9,1077.5 418.2,1076.2 418.5,1072.2 418.7,1073.1 419.0,1071.4 419.3,1070.0 419.6,1067.9 419.8,1067.4 420.1,1064.4 420.4,1056.7 420.6,1056.2 420.9,1055.1 421.9,1050.7 422.9,1048.7 424.0,1048.8 425.0,1047.0 426.0,1044.9 426.2,1043.7 426.3,1036.9 426.5,1035.5 426.7,1035.9 426.9,1033.3 427.0,1030.8 427.2,1029.2 427.4,1025.4 427.5,1026.4 427.7,1022.6 430.0,1023.4 432.3,1022.4 434.6,1022.6 435.1,1023.6 435.6,1027.1 436.1,1023.9 436.5,1030.2 437.0,1034.9 437.5,1033.9 438.0,1039.7 438.7,1042.5 439.4,1044.8 440.0,1043.9 440.7,1048.7 441.4,1051.7 441.6,1048.7 441.9,1048.0 442.1,1046.0 442.3,1042.3 442.6,1038.1 442.8,1037.4 443.1,1035.2 443.3,1034.6 443.5,1031.3 443.8,1026.7 444.0,1026.0 444.2,1020.7 444.4,1020.6 444.6,1017.5 444.8,1014.4 444.9,1014.3 445.1,1011.2 445.3,1010.2 445.5,1008.8 445.7,1005.4 446.1,1006.9 446.4,1015.4 446.8,1012.1 447.2,1017.7 447.6,1018.0 447.9,1022.6 448.3,1022.6 450.0,1014.8 451.7,1017.4 452.4,1018.1 453.1,1022.7 453.7,1025.9 454.4,1032.1 455.1,1029.4 456.3,1027.8 457.4,1027.7 458.6,1022.6 459.7,1026.6 460.9,1029.2 462.0,1029.4 462.2,1032.7 462.4,1033.5 462.6,1037.1 462.7,1035.9 462.9,1043.0 463.1,1040.4 463.3,1045.4 463.5,1051.7 463.7,1048.8 463.9,1051.5 464.0,1056.2 464.2,1055.9 464.4,1056.3 464.6,1060.3 464.9,1058.5 465.2,1056.9 465.5,1054.8 465.9,1049.2 466.2,1052.3 466.5,1049.8 466.8,1043.8 467.1,1041.4 467.8,1044.4 468.5,1045.3 469.2,1051.7 469.9,1049.4 470.6,1053.4 471.7,1052.6 472.9,1047.8 474.0,1046.6 474.9,1047.2 475.7,1052.4 476.5,1055.9 477.4,1055.1 477.6,1052.8 477.7,1049.1 477.9,1050.2 478.0,1046.1 478.2,1044.6 478.3,1045.0 478.5,1041.9 478.6,1036.1 478.8,1040.0 478.9,1032.8 479.1,1032.2 479.2,1026.9 479.4,1025.9 479.5,1020.0 479.7,1025.5 479.8,1022.3 480.0,1014.4 480.1,1011.6 480.3,1009.1 480.4,1013.0 480.6,1007.2 480.7,1005.8 480.9,1003.7 481.1,1005.3 481.3,1008.1 481.4,1008.3 481.6,1013.1 481.8,1012.2 482.0,1017.5 482.1,1020.7 482.3,1023.4 482.5,1024.1 482.7,1025.0 482.9,1029.7 483.0,1030.6 483.2,1037.4 483.4,1036.3 483.8,1040.3 484.3,1040.6 484.7,1042.1 485.1,1043.9 485.6,1045.7 486.0,1050.0 486.4,1051.5 486.9,1055.2 487.3,1058.0 487.7,1060.4 488.2,1066.0 488.6,1063.7 488.8,1059.9 489.0,1059.3 489.1,1063.2 489.3,1050.8 489.5,1051.6 489.7,1050.9 489.9,1048.6 490.0,1047.0 490.2,1043.4 490.4,1042.5 490.6,1039.6 490.7,1039.0 490.9,1030.9 491.1,1032.9 491.3,1028.7 491.4,1028.3 491.6,1023.8 491.8,1021.5 492.0,1022.8 492.1,1017.8 492.3,1018.3 492.5,1016.2 492.7,1013.0 492.8,1011.2 493.0,1007.5 493.2,1002.4 493.4,1003.1 493.5,1001.9 493.7,998.6 494.2,995.1 494.7,993.8 495.1,993.4 495.6,987.5 496.1,988.6 496.6,989.0 497.0,981.4 497.5,980.6 498.0,978.0 498.2,980.0 498.3,986.1 498.5,985.7 498.6,989.3 498.8,988.2 498.9,992.0 499.1,994.3 499.2,992.8 499.4,1002.2 499.5,1003.3 499.7,1003.7 500.0,1002.2 500.4,1010.1 500.7,1010.5 501.0,1014.1 501.3,1016.3 501.6,1014.6 502.0,1019.8 502.3,1022.6 502.6,1023.5 502.8,1016.5 503.1,1013.1 503.3,1010.0 503.6,1007.9 503.9,1008.9 504.1,1009.5 504.4,1004.3 504.6,1001.5 504.9,998.6 505.1,1001.3 505.3,993.1 505.5,990.5 505.7,991.0 505.8,988.8 506.0,983.2 506.2,980.7 506.4,981.7 506.6,979.4 506.8,973.8 507.0,974.0 507.2,971.1 507.4,971.1 507.5,967.6 507.7,965.5 507.9,962.7 508.1,963.6 508.3,959.1 509.6,964.8 510.9,964.3 511.1,965.7 511.4,970.6 511.6,969.3 511.9,973.4 512.1,977.1 512.4,981.0 512.6,979.1 512.9,982.0 513.1,984.8 513.4,986.6 513.8,985.5 514.2,991.0 514.6,991.7 515.0,996.1 515.4,995.0 515.7,995.3 516.1,1002.0 516.5,1004.6 516.9,1005.0 517.3,1010.4 517.7,1010.6 518.4,1007.7 519.1,1004.7 519.9,1004.8 520.6,998.0 521.3,997.7 522.0,996.9 522.5,999.3 523.0,1003.6 523.6,1003.7 524.1,1007.2 524.6,1008.9 525.1,1009.7 525.6,1014.1 526.0,1019.4 526.5,1016.5 527.0,1025.5 527.5,1021.2 527.9,1024.9 528.4,1027.5 528.9,1029.4 531.2,1030.5 533.4,1024.4 535.7,1026.0 537.0,1023.5 538.3,1031.6 539.6,1034.2 540.9,1034.6 541.1,1038.3 541.4,1045.1 541.6,1042.1 541.8,1044.5 542.0,1048.3 542.3,1049.4 542.5,1054.6 542.7,1050.6 542.9,1054.8 543.2,1050.4 543.4,1060.3 543.6,1064.4 543.8,1064.1 544.0,1069.3 544.1,1074.4 544.3,1071.9 544.5,1073.7 544.7,1075.5 544.9,1077.1 545.1,1079.9 545.3,1085.0 545.4,1086.0 545.6,1088.4 545.8,1090.2 546.0,1092.9 546.2,1097.2 546.4,1098.6 546.6,1099.5 546.8,1103.6 547.0,1104.2 547.2,1104.3 547.4,1112.3 547.6,1112.5 547.8,1111.7 548.0,1118.4 548.2,1119.2 548.4,1117.3 548.6,1126.6 548.8,1126.1 549.0,1129.6 549.2,1130.4 549.4,1132.3 552.0,1133.7 554.6,1135.7 555.3,1134.7 556.0,1142.6 556.6,1143.0 557.3,1144.7 558.0,1147.7 561.4,1149.4 562.3,1147.9 563.1,1145.0 564.0,1144.0 564.9,1139.5 565.7,1137.9 566.6,1135.7 566.8,1128.7 567.1,1130.2 567.3,1130.3 567.5,1129.5 567.7,1123.5 568.0,1121.7 568.2,1123.2 568.4,1116.7 568.6,1116.7 568.9,1116.5 569.1,1110.6 569.3,1111.0 569.5,1104.4 569.8,1104.1 570.0,1101.4 570.5,1099.0 570.9,1097.3 571.4,1097.3 571.9,1097.9 572.3,1089.0 572.8,1087.0 573.2,1087.2 573.7,1081.6 574.2,1082.9 574.6,1080.8 575.1,1077.4 576.9,1074.2 578.6,1072.3 579.3,1075.9 580.0,1073.7 580.6,1081.2 581.3,1078.5 582.0,1084.3 582.4,1080.5 582.8,1078.5 583.1,1076.6 583.5,1077.0 583.9,1073.0 584.3,1069.7 584.6,1069.5 585.0,1069.5 585.4,1063.7 585.6,1065.9 585.8,1068.9 586.0,1073.1 586.2,1073.2 586.4,1072.0 586.6,1082.5 586.8,1084.1 587.0,1077.1 587.3,1083.6 587.5,1086.8 587.7,1090.2 587.9,1091.8 588.1,1091.9 588.3,1092.4 588.5,1097.2 588.7,1101.5 588.9,1101.4 589.6,1096.6 590.3,1094.3 590.9,1094.1 591.6,1087.5 592.3,1089.4 593.0,1091.2 593.7,1093.2 594.3,1097.6 595.0,1097.5 595.7,1101.4 596.2,1097.0 596.7,1095.6 597.2,1094.0 597.6,1090.2 598.1,1089.2 598.6,1088.4 599.1,1084.3 599.4,1084.6 599.7,1083.5 600.0,1075.7 600.3,1074.2 600.6,1067.4 600.9,1074.8 601.1,1066.7 601.4,1066.0 601.7,1064.9 602.0,1058.5 602.3,1060.2 602.6,1056.9 604.3,1058.5 606.0,1060.3 606.4,1058.6 606.8,1065.5 607.1,1069.8 607.5,1065.3 607.9,1073.5 608.3,1074.5 608.6,1077.4 609.0,1079.6 609.4,1080.9 610.3,1086.3 611.1,1085.5 612.0,1090.5 612.9,1091.1 613.6,1087.8 614.3,1087.9 614.9,1082.1 615.6,1081.3 616.3,1079.1 616.8,1085.4 617.3,1085.0 617.8,1086.1 618.2,1086.4 618.7,1089.6 619.2,1094.3 619.7,1096.3 620.1,1096.1 620.5,1092.7 620.8,1090.6 621.2,1087.1 621.6,1087.8 622.0,1081.7 622.3,1079.1 622.7,1079.9 623.1,1075.7 623.4,1073.5 623.6,1070.4 623.9,1067.4 624.2,1065.8 624.5,1065.4 624.7,1062.5 625.0,1056.7 625.3,1058.0 625.5,1055.1 625.8,1050.2 626.1,1051.8 626.4,1047.1 626.6,1044.7 626.9,1043.1 627.3,1047.2 627.8,1050.7 628.2,1048.7 628.6,1053.5 629.0,1053.0 629.4,1062.4 629.9,1058.6 630.3,1062.0 630.6,1066.9 631.0,1065.0 631.3,1070.5 631.7,1075.8 632.0,1067.6 632.3,1074.4 632.7,1078.7 633.0,1079.6 633.4,1080.6 633.7,1084.3 634.0,1086.7 634.3,1079.8 634.6,1073.7 634.9,1076.8 635.2,1068.8 635.6,1072.8 635.9,1066.7 636.2,1065.9 636.5,1066.0 636.8,1061.2 637.1,1058.6 637.5,1058.0 637.8,1059.8 638.2,1068.5 638.6,1070.0 639.0,1069.0 639.3,1075.1 639.7,1075.7 640.2,1079.2 640.7,1082.0 641.2,1078.1 641.6,1084.9 642.1,1090.0 642.6,1092.1 643.1,1092.9 643.4,1092.6 643.6,1083.1 643.9,1086.7 644.1,1085.2 644.4,1087.5 644.6,1077.6 644.9,1076.7 645.1,1075.3 645.4,1075.0 645.6,1069.9 645.9,1071.1 646.1,1064.7 646.4,1064.8 646.6,1062.0 647.0,1058.6 647.5,1057.9 647.9,1053.8 648.3,1049.6 648.8,1053.3 649.2,1049.3 649.6,1045.2 650.0,1044.6 650.5,1044.1 650.9,1039.7 651.1,1039.8 651.4,1043.9 651.6,1047.6 651.9,1049.8 652.1,1050.1 652.4,1048.4 652.6,1058.0 652.9,1058.3 653.1,1059.8 653.4,1062.0 653.6,1063.7 653.8,1067.1 654.0,1067.9 654.3,1068.9 654.5,1071.8 654.7,1074.4 654.9,1076.6 655.1,1077.7 655.4,1083.9 655.6,1082.0 655.8,1088.6 656.0,1089.4 656.5,1084.7 657.0,1085.3 657.5,1085.1 657.9,1080.1 658.4,1075.6 658.9,1074.8 659.4,1072.3 660.3,1075.2 661.1,1073.6 662.0,1078.7 662.9,1082.6 664.6,1081.2 666.3,1079.1 667.4,1075.8 668.6,1074.7 669.7,1072.3 671.4,1076.5 673.1,1077.4 673.8,1081.5 674.5,1084.2 675.2,1085.9 675.9,1086.4 676.6,1089.4 676.9,1091.6 677.1,1093.3 677.4,1095.4 677.6,1098.0 677.9,1096.8 678.2,1102.1 678.4,1105.1 678.7,1105.2 679.0,1109.6 679.2,1113.0 679.5,1113.7 679.7,1120.9 680.0,1118.6 680.4,1115.3 680.7,1123.0 681.1,1121.9 681.5,1130.5 681.9,1136.7 682.2,1127.8 682.6,1135.7 683.2,1138.1 683.9,1141.1 684.5,1141.5 685.1,1144.3 685.4,1143.3 685.7,1135.0 686.1,1139.6 686.4,1136.4 686.7,1133.4 687.0,1129.9 687.3,1130.4 687.6,1125.8 688.0,1125.2 688.3,1121.4 688.6,1120.3 688.8,1113.1 688.9,1115.8 689.1,1114.1 689.3,1113.0 689.5,1107.2 689.6,1106.8 689.8,1106.0 690.0,1102.8 690.1,1103.0 690.3,1102.4 690.5,1093.8 690.6,1089.3 690.8,1093.2 691.0,1092.4 691.1,1088.9 691.3,1086.4 691.5,1081.0 691.7,1078.6 691.8,1079.9 692.0,1075.7 692.2,1071.5 692.5,1067.3 692.7,1066.9 693.0,1072.4 693.2,1068.9 693.5,1061.0 693.7,1058.7 693.9,1058.6 694.2,1054.3 694.4,1056.6 694.7,1051.3 694.9,1046.9 695.2,1050.0 695.4,1044.9 695.8,1041.3 696.2,1040.8 696.6,1038.0 697.0,1035.1 697.3,1034.2 697.7,1029.6 698.1,1024.8 698.5,1021.7 698.9,1024.3 699.7,1019.1 700.6,1017.8 701.4,1017.0 702.3,1014.8 703.1,1012.3 703.3,1015.8 703.5,1017.0 703.7,1017.3 703.9,1019.7 704.1,1018.8 704.3,1025.4 704.5,1029.0 704.7,1031.4 704.9,1032.2 705.1,1034.3 705.3,1039.0 705.5,1039.2 705.7,1041.4 706.0,1045.4 706.3,1047.4 706.6,1048.9 706.9,1053.6 707.2,1051.8 707.6,1054.6 707.9,1056.0 708.2,1058.3 708.5,1065.9 708.8,1068.6 709.1,1067.1 709.3,1069.4 709.6,1072.9 709.8,1076.5 710.0,1078.0 710.3,1081.2 710.5,1078.0 710.7,1081.7 711.0,1086.4 711.2,1090.8 711.4,1090.2 711.7,1090.4 711.9,1093.8 712.1,1095.4 712.4,1097.2 712.6,1101.4 712.8,1107.0 712.9,1104.7 713.1,1108.5 713.2,1115.5 713.4,1115.7 713.5,1116.2 713.7,1116.4 713.8,1121.0 714.0,1126.0 714.1,1126.1 714.3,1127.1 714.6,1127.6 714.9,1122.7 715.1,1121.4 715.4,1117.5 715.7,1116.6 716.0,1113.4 717.7,1114.6 719.4,1110.0 721.1,1108.6 722.9,1113.4 724.6,1110.7 726.3,1108.3 726.9,1106.5 727.4,1102.5 728.0,1100.8 728.6,1100.9 729.1,1101.3 729.7,1094.6 731.4,1093.4 733.1,1089.4 734.3,1092.4 735.4,1090.6 736.6,1096.3 737.1,1098.3 737.6,1092.1 738.1,1089.6 738.5,1085.0 739.0,1085.2 739.5,1080.7 740.0,1080.9 740.4,1083.4 740.9,1086.6 741.3,1088.0 741.7,1090.9 742.1,1090.8 742.5,1098.1 743.0,1095.9 743.4,1099.7 744.1,1098.1 744.8,1104.1 745.5,1105.2 746.2,1107.1 746.9,1111.7 749.5,1111.8 752.0,1113.4 753.1,1116.3 754.3,1115.4 755.4,1120.3 757.1,1117.4 758.9,1115.1 760.2,1116.1 761.5,1112.4 762.7,1108.4 764.0,1106.6 764.6,1109.2 765.1,1110.9 765.7,1113.3 766.3,1117.3 766.8,1117.8 767.4,1120.3 768.3,1112.9 769.1,1116.0 770.0,1111.9 770.9,1111.7 771.6,1110.7 772.3,1105.6 772.9,1104.8 773.6,1106.9 774.3,1099.7 775.4,1099.7 776.6,1101.8 777.7,1106.6 778.2,1101.0 778.7,1096.4 779.2,1095.1 779.6,1097.6 780.1,1092.9 780.6,1087.7 781.1,1089.4 781.8,1083.7 782.5,1086.0 783.2,1080.5 783.9,1079.0 784.6,1077.4 786.3,1075.9 788.0,1075.9 789.7,1070.6 789.9,1077.1 790.2,1077.3 790.4,1077.5 790.7,1079.8 790.9,1085.6 791.2,1086.9 791.4,1086.0 791.7,1083.0 792.0,1082.4 792.3,1079.8 792.6,1077.0 792.9,1073.5 793.1,1069.4 793.4,1068.8 793.7,1064.3 794.0,1068.1 794.3,1064.3 794.6,1058.2 794.9,1058.6 795.6,1059.3 796.3,1055.8 796.9,1047.2 797.6,1053.1 798.3,1046.6 798.8,1050.8 799.3,1056.0 799.8,1051.2 800.2,1057.5 800.7,1059.7 801.2,1061.7 801.7,1063.7 803.4,1065.8 805.1,1067.1 806.0,1071.6 806.9,1068.1 807.7,1070.8 808.6,1075.7 809.6,1075.0 810.6,1079.3 811.7,1081.6 812.7,1086.1 813.7,1087.7 814.2,1090.7 814.7,1092.7 815.2,1093.6 815.6,1096.6 816.1,1102.1 816.6,1104.1 817.1,1104.9 817.6,1107.3 818.1,1108.6 818.6,1114.9 819.1,1112.4 819.6,1117.3 820.1,1120.6 820.6,1120.3 820.9,1117.5 821.2,1117.8 821.5,1111.3 821.8,1113.8 822.1,1109.8 822.5,1103.7 822.8,1106.5 823.1,1100.9 823.4,1103.5 823.7,1097.0 824.0,1096.3 824.3,1093.6 824.6,1092.2 824.9,1088.6 825.2,1087.5 825.5,1083.4 825.9,1083.8 826.2,1080.0 826.5,1078.1 826.8,1069.2 827.1,1075.5 827.4,1070.6 827.9,1072.9 828.4,1071.1 828.9,1077.4 829.4,1080.4 829.9,1084.0 830.4,1081.4 830.9,1086.0 831.4,1087.0 831.9,1080.8 832.4,1083.9 832.8,1075.9 833.3,1075.3 833.8,1070.5 834.3,1068.9 836.6,1064.7 838.8,1067.8 841.1,1063.7 841.3,1067.9 841.5,1071.5 841.6,1072.3 841.8,1071.4 842.0,1071.2 842.1,1075.6 842.3,1077.8 842.5,1079.7 842.7,1085.1 842.9,1086.7 843.0,1087.6 843.2,1090.8 843.4,1092.4 843.6,1095.4 843.7,1098.8 843.9,1101.5 844.1,1100.1 844.2,1100.5 844.4,1109.2 844.6,1108.3 845.0,1106.3 845.4,1106.2 845.8,1097.9 846.2,1098.6 846.6,1097.1 847.0,1091.7 847.3,1091.4 847.7,1091.9 848.1,1090.5 848.5,1089.3 848.9,1081.7 849.3,1078.3 849.7,1079.1 850.2,1077.8 850.8,1076.3 851.3,1072.2 851.8,1066.5 852.3,1068.6 852.9,1066.2 853.4,1062.0 853.9,1060.9 854.5,1056.2 855.0,1055.6 855.5,1054.3 856.1,1049.0 856.6,1043.8 857.2,1046.2 857.7,1043.1 858.2,1046.5 858.8,1047.9 859.3,1052.1 859.9,1051.3 860.4,1054.7 860.9,1056.6 861.5,1060.9 862.0,1062.0 862.9,1068.1 863.7,1066.6 864.5,1074.2 865.4,1072.3 866.6,1077.9 867.7,1078.6 868.9,1079.1 869.6,1082.8 870.3,1087.8 870.9,1085.9 871.6,1088.5 872.3,1091.1 873.0,1091.2 873.7,1096.9 874.3,1101.3 875.0,1101.9 875.7,1103.1 876.6,1102.0 877.4,1098.6 878.3,1097.4 879.1,1091.8 880.0,1092.9 882.1,1094.3 884.3,1091.1 886.0,1092.8 887.7,1096.3 888.6,1091.3 889.4,1089.5 890.2,1086.8 891.1,1086.0 891.4,1085.5 891.6,1083.5 891.9,1075.8 892.1,1078.4 892.4,1076.0 892.7,1070.3 892.9,1065.9 893.2,1065.2 893.4,1063.0 893.7,1062.0 893.9,1065.0 894.1,1065.6 894.3,1064.2 894.4,1071.3 894.6,1069.7 894.8,1077.2 895.0,1074.8 895.2,1078.1 895.4,1080.0 895.6,1082.9 895.7,1089.1 895.9,1090.4 896.1,1092.0 896.3,1092.9 896.7,1096.0 897.0,1094.4 897.4,1099.1 897.8,1101.5 898.2,1103.0 898.5,1108.7 898.9,1110.0 899.0,1106.2 899.2,1104.0 899.3,1101.0 899.5,1096.6 899.6,1100.2 899.8,1099.6 899.9,1094.9 900.1,1090.1 900.2,1084.1 900.4,1088.2 900.5,1088.3 900.7,1084.0 900.8,1083.2 901.0,1082.2 901.1,1079.2 901.3,1073.5 901.4,1072.3 901.8,1072.4 902.1,1069.5 902.4,1062.2 902.8,1062.5 903.1,1058.0 903.5,1058.7 903.9,1058.0 904.2,1052.1 904.5,1047.7 904.9,1050.0 908.3,1048.3 908.5,1053.4 908.7,1053.7 908.9,1058.4 909.2,1054.5 909.4,1062.0 909.6,1066.6 909.8,1068.7 910.0,1066.1 910.2,1069.4 910.5,1070.8 910.7,1075.6 910.9,1075.7 911.0,1080.2 911.2,1080.3 911.3,1079.4 911.5,1086.2 911.6,1085.8 911.8,1090.4 911.9,1091.8 912.1,1097.0 912.2,1098.2 912.4,1096.9 912.5,1100.9 912.7,1106.2 912.8,1103.3 913.0,1107.7 913.1,1111.6 913.3,1113.9 913.4,1113.4 913.7,1116.8 914.0,1115.1 914.2,1117.5 914.5,1123.1 914.8,1125.7 915.1,1127.1 915.4,1130.4 915.7,1120.6 916.0,1122.8 916.3,1119.7 916.6,1112.0 916.9,1111.6 917.1,1111.5 917.4,1107.7 917.7,1106.2 918.0,1105.3 918.3,1100.2 918.6,1099.7 919.2,1098.4 919.7,1093.7 920.3,1091.7 920.9,1091.7 921.4,1087.0 922.0,1086.0 922.6,1088.9 923.1,1094.1 923.7,1092.9 924.3,1094.8 924.8,1099.0 925.4,1099.7 926.3,1096.3 927.1,1096.9 928.0,1089.2 928.9,1089.4 929.8,1088.6 930.6,1084.0 931.4,1081.3 932.3,1080.9 935.7,1079.1 936.0,1085.3 936.3,1081.8 936.5,1089.9 936.8,1089.7 937.1,1093.8 937.4,1092.9 937.6,1093.0 937.9,1100.1 938.1,1102.9 938.3,1101.8 938.6,1104.0 938.8,1112.0 939.0,1109.3 939.3,1110.2 939.5,1112.0 939.7,1116.7 940.0,1118.7 940.2,1120.7 940.4,1126.3 940.7,1124.1 940.9,1127.1 942.6,1130.7 944.3,1132.3 944.9,1133.2 945.4,1125.5 946.0,1127.7 946.6,1127.2 947.1,1117.9 947.7,1118.6 948.1,1113.8 948.6,1111.6 949.0,1107.5 949.4,1110.1 949.8,1102.7 950.2,1105.5 950.7,1105.3 951.1,1099.7 952.0,1093.9 952.8,1094.5 953.7,1092.9 954.4,1091.2 955.0,1099.7 955.6,1098.9 956.3,1103.1 958.0,1104.3 959.7,1106.6 960.8,1109.0 962.0,1112.3 963.1,1113.4 963.7,1114.9 964.3,1118.0 964.9,1119.0 965.4,1122.8 966.0,1122.2 966.6,1127.1 967.1,1129.7 967.6,1127.8 968.1,1133.4 968.5,1141.1 969.0,1139.6 969.5,1139.1 970.0,1144.3 970.2,1147.1 970.4,1146.7 970.6,1147.5 970.9,1151.8 971.1,1157.3 971.3,1158.8 971.5,1160.1 971.7,1160.5 972.0,1162.5 972.2,1170.1 972.4,1170.0 972.6,1171.7 972.8,1167.4 973.0,1162.7 973.1,1162.1 973.3,1168.3 973.5,1158.2 973.7,1158.3 973.9,1156.8 974.0,1153.8 974.2,1151.3 974.4,1146.7 974.6,1145.2 974.7,1149.0 974.9,1141.4 975.1,1140.9 975.4,1140.4 975.7,1132.5 976.1,1133.3 976.4,1132.1 976.7,1131.5 977.0,1124.4 977.3,1125.8 977.6,1123.0 978.0,1118.2 978.3,1118.5 978.6,1115.1 978.9,1110.9 979.3,1108.9 979.6,1108.4 980.0,1100.2 980.3,1103.8 980.6,1099.6 981.0,1096.3 981.3,1096.4 981.7,1096.8 982.0,1092.9 982.5,1094.2 983.0,1100.1 983.5,1096.9 983.9,1098.8 984.4,1107.3 984.9,1107.0 985.4,1108.3 988.9,1110.0 990.6,1113.8 992.3,1113.4 995.7,1113.4 998.3,1113.3 1000.9,1116.9 1003.2,1118.7 1005.4,1117.5 1007.7,1116.9 1008.6,1115.8 1009.4,1111.8 1010.2,1111.8 1011.1,1106.6 1012.3,1102.9 1013.4,1099.9 1014.6,1099.7 1016.3,1094.7 1018.0,1098.9 1019.7,1094.6 1021.4,1091.2 1023.1,1091.1 1024.0,1086.3 1024.8,1083.9 1025.7,1082.5 1026.6,1080.9 1027.3,1080.5 1028.0,1085.1 1028.6,1086.7 1029.3,1089.3 1030.0,1092.9 1030.5,1093.2 1031.0,1097.9 1031.5,1099.2 1031.9,1102.9 1032.4,1105.7 1032.9,1108.3 1033.4,1110.0 1033.6,1107.5 1033.8,1113.4 1034.0,1115.1 1034.2,1120.9 1034.3,1118.0 1034.5,1122.2 1034.7,1125.4 1034.9,1127.6 1035.1,1130.6 1035.6,1130.3 1036.1,1124.7 1036.6,1125.4 1037.1,1117.5 1037.6,1114.3 1038.1,1118.5 1038.6,1113.4 1039.4,1111.8 1040.3,1109.3 1041.2,1105.9 1042.0,1103.1 1042.6,1101.9 1043.1,1095.9 1043.7,1098.3 1044.3,1092.8 1044.8,1093.9 1045.4,1089.4 1046.3,1087.0 1047.2,1079.9 1048.0,1078.8 1048.9,1079.1 1050.6,1083.3 1052.3,1082.6 1052.8,1084.7 1053.3,1086.6 1053.8,1090.5 1054.2,1091.4 1054.7,1093.6 1055.2,1097.5 1055.7,1099.7 1056.5,1102.6 1057.4,1108.2 1058.2,1107.5 1059.1,1110.0 1060.8,1115.8 1062.6,1113.4 1063.0,1119.7 1063.4,1121.9 1063.9,1122.8 1064.3,1123.1 1064.7,1125.5 1065.2,1127.3 1065.6,1128.3 1066.0,1132.3 1066.8,1129.6 1067.7,1125.7 1068.6,1128.2 1069.4,1122.0 1071.2,1120.6 1072.9,1116.9 1073.8,1118.0 1074.6,1116.9 1075.5,1123.2 1076.3,1125.4 1076.5,1122.3 1076.8,1118.6 1077.0,1116.3 1077.2,1111.6 1077.5,1115.6 1077.7,1112.0 1077.9,1115.6 1078.2,1107.6 1078.4,1105.2 1078.6,1106.5 1078.8,1101.4 1079.1,1099.2 1079.3,1095.8 1079.5,1093.1 1079.8,1095.5 1080.0,1090.0 1080.5,1089.8 1081.0,1089.0 1081.5,1082.1 1082.1,1080.5 1082.6,1076.1 1083.1,1075.7 1084.5,1080.0 1086.0,1080.0 1086.4,1079.3 1086.8,1086.0 1087.2,1089.6 1087.6,1092.7 1088.0,1092.0 1088.2,1092.2 1088.5,1098.9 1088.8,1097.2 1089.0,1099.3 1089.2,1100.3 1089.5,1108.0 1089.8,1111.4 1090.0,1108.7 1090.2,1110.6 1090.5,1113.8 1090.8,1122.3 1091.0,1121.2 1091.2,1120.1 1091.5,1119.6 1091.8,1124.3 1092.0,1128.0 1092.8,1133.0 1093.6,1136.9 1094.4,1134.6 1095.2,1136.1 1096.0,1140.0 1096.2,1141.2 1096.5,1140.5 1096.8,1149.0 1097.0,1146.9 1097.2,1154.0 1097.5,1150.2 1097.8,1153.5 1098.0,1159.3 1098.2,1159.3 1098.5,1165.1 1098.8,1165.7 1099.0,1168.0 1099.4,1163.1 1099.9,1164.8 1100.3,1163.0 1100.7,1154.6 1101.1,1160.6 1101.6,1155.4 1102.0,1152.0 1104.0,1151.7 1106.0,1148.0 1106.3,1141.6 1106.5,1141.9 1106.8,1140.4 1107.1,1141.3 1107.3,1133.5 1107.6,1132.5 1107.9,1127.7 1108.1,1129.3 1108.4,1128.4 1108.7,1121.6 1108.9,1121.8 1109.2,1121.9 1109.5,1122.0 1109.7,1117.7 1110.0,1114.0 1111.0,1110.7 1112.0,1106.1 1113.0,1106.0 1114.3,1101.9 1115.7,1100.5 1117.0,1100.0 1117.4,1102.6 1117.9,1104.5 1118.3,1110.5 1118.7,1109.8 1119.1,1109.1 1119.6,1117.1 1120.0,1116.0 1120.4,1120.3 1120.9,1120.7 1121.3,1121.1 1121.8,1120.8 1122.2,1124.9 1122.7,1131.3 1123.1,1129.8 1123.6,1130.9 1124.0,1136.0 1124.3,1138.8 1124.7,1141.2 1125.0,1144.3 1125.3,1146.8 1125.7,1150.8 1126.0,1148.2 1126.3,1154.5 1126.7,1152.5 1127.0,1158.5 1127.3,1159.7 1127.7,1162.2 1128.0,1164.0 1128.4,1163.9 1128.8,1159.5 1129.1,1159.7 1129.5,1156.9 1129.9,1153.0 1130.2,1149.3 1130.6,1146.6 1131.0,1146.0 1131.4,1147.0 1131.7,1149.9 1132.1,1152.5 1132.5,1161.3 1132.8,1158.3 1133.2,1160.8 1133.5,1159.4 1133.9,1161.9 1134.3,1164.9 1134.6,1168.2 1135.0,1170.0 1135.2,1165.5 1135.5,1169.1 1135.7,1162.1 1135.9,1163.4 1136.2,1153.7 1136.4,1156.6 1136.6,1155.0 1136.9,1152.5 1137.1,1151.2 1137.4,1148.3 1137.6,1145.8 1137.8,1139.0 1138.1,1139.4 1138.3,1133.6 1138.5,1137.9 1138.8,1134.9 1139.0,1132.0 1139.4,1129.3 1139.9,1125.6 1140.3,1123.9 1140.7,1126.9 1141.1,1124.4 1141.6,1118.2 1142.0,1116.0 1142.2,1116.6 1142.3,1108.1 1142.5,1105.1 1142.7,1106.0 1142.8,1103.0 1143.0,1101.4 1143.2,1100.9 1143.3,1104.9 1143.5,1094.5 1143.7,1093.9 1143.8,1092.2 1144.0,1089.3 1144.2,1089.2 1144.3,1088.8 1144.5,1079.9 1144.7,1080.8 1144.8,1077.6 1145.0,1076.0 1145.4,1079.0 1145.9,1077.1 1146.3,1078.8 1146.8,1079.8 1147.2,1088.3 1147.7,1089.8 1148.1,1091.7 1148.6,1088.6 1149.0,1096.0 1150.3,1093.2 1151.7,1090.3 1153.0,1090.0 1153.4,1089.3 1153.7,1092.7 1154.1,1098.6 1154.5,1100.7 1154.8,1101.8 1155.2,1105.3 1155.5,1105.2 1155.9,1109.1 1156.3,1111.4 1156.6,1114.9 1157.0,1116.0 1158.0,1117.8 1159.0,1119.7 1160.0,1121.7 1161.0,1124.0 1161.2,1124.9 1161.4,1133.5 1161.6,1132.0 1161.9,1134.1 1162.1,1140.5 1162.3,1140.8 1162.5,1136.6 1162.7,1143.8 1162.9,1146.4 1163.1,1151.0 1163.4,1152.0 1163.6,1153.1 1163.8,1151.1 1164.0,1156.0 1166.0,1155.1 1168.0,1158.0 1170.0,1160.6 1172.0,1162.0 1172.3,1160.8 1172.7,1155.2 1173.0,1154.4 1173.3,1152.1 1173.7,1150.8 1174.0,1149.1 1174.3,1145.5 1174.7,1141.1 1175.0,1144.3 1175.3,1142.8 1175.7,1136.8 1176.0,1137.1 1176.3,1133.5 1176.7,1131.7 1177.0,1128.0 1177.3,1131.3 1177.7,1130.8 1178.0,1135.9 1178.3,1139.1 1178.7,1137.1 1179.0,1145.7 1179.3,1148.2 1179.7,1149.8 1180.0,1148.0 1180.4,1154.6 1180.7,1154.0 1181.1,1153.8 1181.5,1155.4 1181.8,1157.1 1182.2,1161.3 1182.5,1163.2 1182.9,1166.9 1183.3,1163.2 1183.6,1174.9 1184.0,1172.0 1184.3,1179.3 1184.6,1176.5 1184.9,1180.3 1185.1,1182.2 1185.4,1184.0 1185.7,1185.3 1186.0,1188.0 1186.5,1185.4 1187.0,1181.5 1187.5,1181.4 1188.0,1178.6 1188.5,1177.0 1189.0,1174.0 1191.5,1170.1 1194.0,1170.0 1197.0,1169.1 1200.0,1168.0 1200.7,1165.9 1201.3,1164.9 1202.0,1159.0 1202.7,1160.0 1203.3,1159.1 1204.0,1156.0 1204.7,1151.6 1205.3,1149.1 1206.0,1148.0 1206.3,1145.1 1206.7,1144.9 1207.0,1144.4 1207.3,1138.3 1207.7,1134.9 1208.0,1134.8 1208.3,1132.1 1208.7,1127.3 1209.0,1125.4 1209.3,1124.4 1209.7,1123.8 1210.0,1120.0 1211.0,1114.9 1212.0,1112.8 1213.0,1113.6 1214.0,1110.0 1216.0,1106.3 1218.0,1108.0 1218.3,1105.9 1218.7,1104.1 1219.0,1100.8 1219.3,1096.4 1219.7,1096.2 1220.0,1093.3 1220.3,1092.4 1220.7,1087.5 1221.0,1089.4 1221.3,1081.0 1221.7,1081.9 1222.0,1080.0 1222.2,1082.3 1222.3,1086.7 1222.5,1085.6 1222.6,1090.4 1222.8,1090.3 1222.9,1095.5 1223.1,1100.0 1223.2,1097.6 1223.4,1101.7 1223.5,1101.0 1223.7,1107.5 1223.8,1110.4 1224.0,1110.0 1224.3,1112.4 1224.6,1112.1 1224.9,1117.8 1225.2,1121.8 1225.5,1123.9 1225.8,1125.6 1226.2,1122.1 1226.5,1127.0 1226.8,1133.9 1227.1,1130.4 1227.4,1137.9 1227.7,1141.8 1228.0,1140.0 1229.0,1139.7 1230.0,1138.5 1231.0,1133.3 1232.0,1132.0 1232.3,1127.1 1232.6,1127.4 1232.9,1125.0 1233.2,1123.1 1233.5,1122.5 1233.8,1118.5 1234.1,1117.0 1234.4,1115.3 1234.7,1112.2 1235.0,1110.0 1235.2,1116.4 1235.5,1115.6 1235.7,1117.1 1235.9,1118.8 1236.2,1120.2 1236.4,1126.8 1236.6,1126.5 1236.8,1126.1 1237.1,1129.5 1237.3,1132.8 1237.5,1134.4 1237.8,1140.1 1238.0,1140.0 1238.4,1139.7 1238.9,1145.5 1239.3,1147.0 1239.8,1146.3 1240.2,1151.2 1240.7,1153.1 1241.1,1156.7 1241.6,1156.8 1242.0,1160.0 1242.3,1158.5 1242.6,1151.9 1242.9,1151.0 1243.2,1152.9 1243.5,1151.3 1243.8,1146.8 1244.1,1143.3 1244.4,1144.8 1244.7,1135.6 1245.0,1138.0 1245.3,1138.6 1245.5,1144.2 1245.8,1146.5 1246.1,1145.2 1246.4,1145.7 1246.6,1155.4 1246.9,1154.9 1247.2,1154.9 1247.5,1159.4 1247.7,1163.6 1248.0,1164.0 1249.0,1160.3 1250.0,1170.4 1251.0,1171.6 1252.0,1172.0 1252.8,1169.8 1253.6,1178.5 1254.4,1175.3 1255.2,1184.1 1256.0,1184.0 1256.7,1187.2 1257.3,1193.6 1258.0,1189.7 1258.7,1193.3 1259.3,1198.0 1260.0,1198.0 1262.0,1195.6 1264.0,1196.0 1266.0,1193.4 1268.0,1194.0 1270.0,1195.2 1272.0,1198.0 1273.0,1195.8 1274.0,1191.6 1275.0,1193.1 1276.0,1190.0 1277.3,1189.2 1278.7,1186.2 1280.0,1184.0 1282.0,1186.4 1284.0,1180.6 1286.0,1180.0 1289.0,1181.9 1292.0,1178.0 1293.3,1178.8 1294.7,1183.7 1296.0,1184.0 1298.0,1181.7 1300.0,1188.4 1302.0,1190.0 1304.0,1191.6 1306.0,1194.0 1308.0,1191.9 1310.0,1192.0 1310.6,1188.4 1311.1,1186.7 1311.7,1183.6 1312.3,1178.0 1312.9,1179.3 1313.4,1177.1 1314.0,1176.0 1314.8,1172.4 1315.6,1168.9 1316.4,1168.5 1317.2,1168.1 1318.0,1164.0 1320.0,1164.4 1322.0,1166.0 1323.0,1162.4 1324.0,1164.0 1325.0,1160.6 1326.0,1156.0 1328.0,1160.0 1330.0,1160.0 1330.8,1164.9 1331.6,1164.1 1332.4,1166.9 1333.2,1172.0 1334.0,1172.0 1334.2,1173.0 1334.5,1176.2 1334.8,1179.6 1335.0,1181.8 1335.2,1182.6 1335.5,1187.7 1335.8,1187.4 1336.0,1190.0 1336.3,1194.0 1336.6,1197.2 1336.9,1198.7 1337.2,1201.2 1337.5,1199.4 1337.8,1201.5 1338.1,1205.4 1338.4,1210.2 1338.7,1214.9 1339.0,1214.0"/>
<polyline stroke-width="4" points="170.4,1541.5 170.9,1536.7 171.5,1537.9 172.0,1533.2 172.5,1531.3 173.0,1530.2 173.6,1530.2 174.1,1526.5 174.7,1524.8 175.4,1524.7 176.0,1517.7 176.6,1519.7 177.3,1517.5 177.9,1513.3 178.0,1511.2 178.0,1509.8 178.1,1505.2 178.2,1501.7 178.3,1500.9 178.3,1498.1 178.4,1503.6 178.5,1493.9 178.5,1496.3 178.6,1490.8 178.7,1488.8 178.8,1487.4 178.8,1481.8 178.9,1481.2 179.0,1485.5 179.1,1486.5 179.2,1484.6 179.3,1491.5 179.5,1493.6 179.6,1495.6 179.7,1500.3 179.8,1498.2 179.9,1502.5 180.0,1505.2 180.1,1503.8 180.2,1510.7 180.4,1507.1 180.5,1509.7 180.6,1515.9 180.7,1517.0 182.6,1516.5 184.5,1520.8 185.0,1522.9 185.4,1521.9 185.9,1528.0 186.4,1527.8 186.9,1533.4 187.4,1531.6 187.8,1538.3 188.3,1539.7 188.4,1541.3 188.5,1544.3 188.6,1546.2 188.7,1548.9 188.9,1547.9 189.0,1547.4 189.1,1555.3 189.2,1555.4 189.3,1558.7 189.4,1562.8 189.5,1559.7 189.6,1564.6 189.8,1567.2 189.9,1568.4 190.0,1573.7 190.1,1574.9 190.2,1577.4 190.3,1577.9 190.3,1579.8 190.4,1586.0 190.5,1585.0 190.6,1590.0 190.6,1591.9 190.7,1589.1 190.8,1593.1 190.8,1597.7 190.9,1600.8 191.0,1604.0 191.1,1606.3 191.1,1609.1 191.2,1608.2 191.3,1610.8 191.4,1615.3 191.4,1614.9 191.5,1620.4 191.6,1616.8 191.6,1624.0 191.7,1624.5 191.8,1622.8 191.9,1631.5 191.9,1632.3 192.0,1633.9 192.1,1636.2 192.2,1636.0 192.3,1639.5 192.4,1646.1 192.6,1643.2 192.7,1639.6 192.8,1647.5 192.9,1649.0 193.0,1653.6 193.1,1655.2 193.2,1656.3 193.3,1658.7 193.5,1665.0 193.6,1661.8 193.7,1671.5 193.8,1668.2 193.9,1671.6 194.8,1671.5 195.8,1678.0 196.8,1679.9 197.7,1681.0 198.0,1680.9 198.4,1687.1 198.7,1683.6 199.1,1687.9 199.4,1694.6 199.8,1693.8 200.1,1693.7 200.5,1699.9 200.8,1703.1 201.2,1703.2 201.5,1705.5 201.8,1704.0 202.1,1709.8 202.4,1714.0 202.8,1717.3 203.1,1722.2 203.4,1720.6 203.5,1717.7 203.7,1714.9 203.8,1713.6 204.0,1714.0 204.1,1707.0 204.2,1709.6 204.4,1698.3 204.5,1703.8 204.6,1698.3 204.8,1698.5 204.9,1696.6 205.1,1690.2 205.2,1690.5 205.3,1688.0 205.4,1686.5 205.5,1685.0 205.7,1679.4 205.8,1677.0 205.9,1672.7 206.0,1680.2 206.1,1672.0 206.2,1669.6 206.4,1664.6 206.5,1667.6 206.6,1662.2 206.7,1664.2 206.8,1660.7 206.9,1656.6 207.1,1655.9 207.2,1649.6 207.3,1649.0 207.4,1646.2 207.5,1642.4 207.6,1643.0 207.8,1640.4 207.9,1641.6 208.0,1628.8 208.1,1633.9 208.2,1630.2 208.3,1627.4 208.4,1626.1 208.5,1625.8 208.7,1623.5 208.8,1620.4 208.9,1617.0 209.0,1616.9 209.1,1614.4 209.2,1607.2 209.3,1608.5 209.4,1603.8 209.6,1601.9 209.7,1602.6 209.8,1600.1 209.9,1598.0 210.0,1593.6 210.1,1592.8 210.2,1589.0 210.3,1589.5 210.5,1588.0 210.6,1588.0 210.7,1584.7 210.8,1577.9 210.9,1577.4 211.1,1574.1 211.3,1570.8 211.4,1571.3 211.6,1572.8 211.8,1567.7 212.0,1559.1 212.2,1558.9 212.3,1556.6 212.5,1558.3 212.7,1554.9 212.9,1553.3 213.1,1554.3 213.3,1546.4 213.4,1544.1 213.6,1548.0 213.8,1542.2 214.0,1537.5 214.2,1532.5 214.3,1531.3 214.5,1527.1 214.7,1530.2 214.9,1528.1 215.1,1525.8 215.2,1525.7 215.4,1520.9 215.6,1517.5 215.8,1515.1 215.9,1518.7 216.1,1508.4 216.3,1510.4 216.5,1507.8 216.6,1506.9 216.8,1502.4 217.0,1502.1 217.2,1500.6 217.3,1496.2 217.5,1493.3 217.7,1491.7 217.9,1487.7 218.0,1487.1 218.2,1484.7 218.4,1483.1 218.6,1481.3 218.8,1481.5 219.0,1479.1 219.2,1473.0 219.4,1473.0 219.6,1470.0 219.9,1468.8 220.1,1464.9 220.3,1463.1 220.5,1459.2 220.7,1456.2 220.9,1457.6 221.1,1456.2 221.3,1451.1 222.2,1454.9 223.2,1456.8 224.1,1458.7 225.0,1460.5 225.1,1461.8 225.3,1461.1 225.4,1468.7 225.6,1470.0 225.7,1470.6 225.9,1471.9 226.0,1479.1 226.2,1474.6 226.3,1484.7 226.4,1484.5 226.6,1490.6 226.7,1486.0 226.9,1489.8 227.0,1491.0 227.2,1494.7 227.3,1496.2 227.5,1497.3 227.6,1503.5 227.8,1501.7 227.9,1505.7 228.0,1506.9 228.2,1511.5 228.3,1511.4 228.5,1513.9 228.6,1517.9 228.8,1518.6 228.9,1518.9 229.1,1523.7 229.2,1525.8 229.4,1532.3 229.5,1528.4 229.7,1535.2 229.8,1533.7 230.0,1536.9 230.1,1539.2 230.3,1542.8 230.4,1546.4 230.6,1550.7 230.7,1549.1 230.9,1550.0 231.1,1556.5 231.3,1558.1 231.4,1559.9 231.6,1558.7 231.8,1564.6 232.0,1564.7 232.2,1568.0 232.4,1568.8 232.6,1573.2 232.8,1576.4 232.9,1578.7 233.1,1578.0 233.3,1582.9 233.5,1583.0 234.8,1588.1 236.0,1584.7 237.3,1588.7 238.2,1594.4 239.2,1590.8 240.1,1596.2 240.2,1599.7 240.4,1602.0 240.5,1606.2 240.6,1605.9 240.7,1606.4 240.9,1608.0 241.0,1609.3 241.1,1616.0 241.2,1616.0 241.4,1617.2 241.5,1622.2 241.6,1621.6 241.7,1624.6 241.9,1626.8 242.0,1630.1 242.1,1631.5 242.3,1628.8 242.4,1622.9 242.6,1617.5 242.7,1619.3 242.9,1616.6 243.0,1614.9 243.2,1613.1 243.3,1608.9 243.5,1609.3 243.6,1606.9 243.8,1603.2 243.9,1599.6 244.1,1597.1 244.2,1597.4 244.4,1591.2 244.5,1591.0 244.7,1587.4 244.8,1586.8 246.2,1580.9 247.7,1581.1 248.0,1584.7 248.2,1585.5 248.5,1587.9 248.7,1591.9 249.0,1588.9 249.2,1594.3 249.5,1597.3 249.7,1600.7 250.0,1598.8 250.2,1604.9 250.5,1605.6 251.1,1608.3 251.8,1613.0 252.4,1614.7 253.0,1615.6 253.7,1621.3 254.3,1618.8 254.7,1616.4 255.1,1613.0 255.5,1610.8 255.9,1607.1 256.3,1606.7 256.7,1600.2 257.1,1601.9 257.6,1603.9 258.0,1607.2 258.5,1610.6 259.0,1609.9 259.4,1615.9 259.9,1615.0 260.5,1615.8 261.2,1619.1 261.8,1617.5 262.4,1622.2 263.1,1624.3 263.7,1628.3 264.2,1629.1 264.6,1624.7 265.1,1618.8 265.5,1620.0 266.0,1617.5 266.5,1613.6 266.9,1611.8 267.4,1609.4 267.7,1606.5 267.9,1603.7 268.2,1598.7 268.5,1600.1 268.8,1600.7 269.0,1598.8 269.3,1592.8 269.6,1589.5 269.8,1588.4 270.1,1588.5 270.4,1585.0 270.7,1580.7 270.9,1580.5 271.2,1577.4 271.5,1574.6 271.8,1573.8 272.1,1569.4 272.5,1564.8 272.8,1565.7 273.1,1564.9 273.4,1558.5 273.7,1558.3 274.1,1558.1 274.4,1553.0 274.7,1550.1 275.0,1549.1 275.2,1551.2 275.4,1546.4 275.5,1544.6 275.7,1538.1 275.9,1541.4 276.1,1532.1 276.3,1532.3 276.4,1532.7 276.6,1531.8 276.8,1524.7 277.0,1523.0 277.2,1522.6 277.4,1515.8 277.5,1519.1 277.7,1516.7 277.9,1512.3 278.1,1512.1 278.3,1510.4 278.4,1507.1 278.6,1505.4 278.8,1502.0 279.0,1503.0 279.2,1496.5 279.3,1495.6 279.5,1491.9 279.7,1493.0 279.9,1487.6 280.0,1487.3 280.2,1484.3 280.4,1481.9 280.6,1483.2 280.7,1477.1 280.9,1478.0 281.1,1474.5 281.3,1473.3 281.4,1467.9 281.6,1468.0 281.8,1465.4 282.0,1460.2 282.1,1459.9 282.3,1456.8 282.5,1454.8 282.7,1452.4 282.9,1453.0 283.1,1446.4 283.3,1442.1 283.5,1439.7 283.7,1440.1 283.9,1437.4 284.2,1436.5 284.4,1435.4 284.6,1435.7 284.8,1430.3 285.0,1428.4 285.2,1423.5 285.4,1422.8 286.3,1426.3 287.3,1430.2 288.2,1432.4 289.2,1427.7 290.1,1434.1 290.2,1438.3 290.4,1442.0 290.5,1442.7 290.7,1440.0 290.8,1444.8 291.0,1449.0 291.1,1450.9 291.3,1450.6 291.4,1452.7 291.6,1458.9 291.7,1456.3 291.9,1464.5 292.0,1463.8 292.2,1466.6 292.3,1465.5 292.5,1469.3 292.6,1474.3 292.8,1472.0 292.9,1477.4 293.3,1484.1 293.7,1479.0 294.2,1481.7 294.6,1486.7 295.0,1490.0 295.4,1492.8 295.9,1492.8 296.3,1495.4 296.7,1498.2 296.9,1500.0 297.1,1501.5 297.3,1499.5 297.4,1509.3 297.6,1510.0 297.8,1512.1 298.0,1512.7 298.2,1516.8 298.4,1518.5 298.6,1520.6 298.8,1525.4 298.9,1521.7 299.1,1528.1 299.3,1527.6 299.5,1532.1 300.4,1533.8 301.4,1540.0 302.4,1536.9 303.3,1541.5 303.6,1543.6 303.9,1545.0 304.2,1550.6 304.5,1548.9 304.8,1549.7 305.1,1556.7 305.5,1557.3 305.8,1559.7 306.1,1565.0 306.4,1563.2 306.7,1566.7 307.0,1569.8 307.5,1567.8 307.9,1566.0 308.4,1561.7 308.9,1562.6 309.4,1562.8 309.9,1554.8 310.3,1557.3 310.8,1551.0 311.1,1548.7 311.4,1558.4 311.8,1556.9 312.1,1560.1 312.4,1561.3 312.7,1562.9 313.0,1563.7 313.3,1567.8 313.7,1573.5 314.0,1575.4 314.3,1574.5 314.6,1577.4 314.9,1574.1 315.2,1571.5 315.5,1568.3 315.8,1572.4 316.1,1567.8 316.5,1564.4 316.8,1561.0 317.1,1557.6 317.4,1560.4 317.7,1557.0 318.0,1551.2 318.3,1551.0 318.5,1550.8 318.6,1544.1 318.8,1545.6 318.9,1539.9 319.1,1538.8 319.2,1538.5 319.4,1536.1 319.5,1535.0 319.7,1528.9 319.8,1531.7 320.0,1528.9 320.1,1523.8 320.3,1522.6 320.4,1517.7 320.6,1516.7 320.7,1512.0 320.9,1512.7 321.0,1510.7 321.2,1510.8 321.3,1507.7 321.5,1505.2 321.6,1500.4 321.8,1498.5 321.9,1495.9 322.1,1494.4 322.5,1492.5 322.8,1485.6 323.1,1489.0 323.5,1481.7 323.9,1481.6 324.2,1480.3 324.5,1476.9 324.9,1475.6 325.4,1481.3 326.0,1479.7 326.5,1485.3 327.1,1486.7 327.6,1485.3 328.2,1489.3 328.7,1490.6 329.2,1491.0 329.6,1485.2 330.1,1483.7 330.6,1480.0 331.1,1479.0 331.6,1475.8 332.0,1474.3 332.5,1471.8 332.9,1476.2 333.3,1479.3 333.6,1478.9 334.0,1481.3 334.4,1484.9 334.8,1484.7 335.2,1485.4 335.5,1492.2 335.9,1490.2 336.3,1494.4 336.9,1498.6 337.4,1496.9 338.0,1505.0 338.5,1501.2 339.1,1505.7 339.7,1505.3 340.3,1504.5 341.0,1497.1 341.6,1500.0 342.2,1493.0 342.8,1492.5 343.0,1486.5 343.2,1489.5 343.4,1487.1 343.6,1483.0 343.8,1475.8 344.0,1478.7 344.2,1475.9 344.4,1473.5 344.6,1471.4 344.8,1465.9 345.0,1466.2 345.2,1469.0 345.4,1466.1 345.6,1459.8 345.8,1456.8 346.0,1456.9 346.2,1456.0 346.4,1453.0 346.6,1449.2 347.4,1444.5 348.1,1445.0 348.9,1442.7 349.6,1443.2 350.4,1437.9 351.2,1438.2 351.9,1434.5 352.7,1433.7 353.4,1428.0 354.2,1426.6 354.3,1427.6 354.5,1421.3 354.6,1420.8 354.7,1419.7 354.9,1413.7 355.0,1411.9 355.1,1407.5 355.3,1409.3 355.4,1406.7 355.5,1403.9 355.7,1403.5 355.8,1395.7 355.9,1398.0 356.1,1396.0 356.2,1393.0 356.3,1393.1 356.5,1392.9 356.6,1386.1 356.7,1382.8 356.9,1381.3 357.0,1380.4 357.1,1382.8 357.2,1386.0 357.3,1385.2 357.4,1391.3 357.5,1389.2 357.5,1395.3 357.6,1396.7 357.7,1399.0 357.8,1404.8 357.9,1401.8 358.0,1404.3 358.1,1407.8 358.2,1410.8 358.3,1408.4 358.4,1414.0 358.4,1414.0 358.5,1419.1 358.6,1422.9 358.7,1422.3 358.8,1424.2 358.9,1426.6 359.0,1429.2 359.2,1424.8 359.3,1435.0 359.4,1436.8 359.6,1438.2 359.7,1439.2 359.8,1440.8 360.0,1444.2 360.1,1449.3 360.2,1448.8 360.4,1454.1 360.5,1448.1 360.6,1454.8 360.8,1458.6 360.9,1460.2 361.0,1459.0 361.2,1463.3 361.3,1469.6 361.4,1466.5 361.6,1469.4 361.7,1473.7 361.9,1473.6 362.0,1477.1 362.2,1481.8 362.3,1484.0 362.5,1480.7 362.6,1490.3 362.8,1488.3 362.9,1490.5 363.1,1497.6 363.2,1496.1 363.4,1495.9 363.5,1499.5 363.7,1501.5 363.8,1503.2 364.0,1506.9 364.1,1511.7 364.3,1512.9 364.4,1511.5 364.6,1522.5 364.7,1516.8 364.9,1521.4 365.0,1523.5 365.2,1527.3 365.3,1527.2 365.5,1530.2 365.7,1533.4 365.9,1539.1 366.2,1537.1 366.4,1536.8 366.6,1542.0 366.8,1541.8 367.0,1544.9 367.2,1548.3 367.5,1550.9 367.7,1551.8 367.9,1556.4 368.1,1556.4 368.3,1556.3 368.5,1563.1 368.8,1562.7 369.0,1568.2 369.2,1567.9 369.3,1568.8 369.5,1573.6 369.6,1575.3 369.8,1571.2 369.9,1576.0 370.0,1579.0 370.2,1586.6 370.3,1581.9 370.4,1590.0 370.6,1592.6 370.7,1593.6 370.9,1596.2 371.0,1596.0 371.1,1599.3 371.3,1602.0 371.4,1604.7 371.5,1607.5 371.7,1607.8 371.8,1609.0 372.0,1611.6 372.1,1615.0 372.3,1618.1 372.4,1615.9 372.6,1619.0 372.8,1623.0 372.9,1624.9 373.1,1627.8 373.3,1624.9 373.4,1632.1 373.6,1634.5 373.7,1638.9 373.9,1635.3 374.1,1641.0 374.2,1644.9 374.4,1647.2 374.6,1650.9 374.7,1652.8 374.9,1652.8 375.2,1648.2 375.6,1649.4 375.9,1645.0 376.3,1641.7 376.6,1644.2 377.0,1637.3 377.3,1634.5 377.7,1633.9 378.1,1630.7 378.4,1627.4 378.8,1628.9 379.1,1625.3 379.4,1625.0 379.8,1620.6 380.1,1616.1 380.5,1615.0 381.0,1615.0 381.5,1609.1 381.9,1607.2 382.4,1605.6 382.9,1603.8 383.4,1604.0 383.9,1597.9 384.3,1597.7 384.8,1594.6 385.3,1592.4 385.5,1592.0 385.7,1594.7 385.9,1598.8 386.1,1602.4 386.3,1604.5 386.5,1607.2 386.7,1608.6 386.9,1609.8 387.1,1613.9 387.3,1613.2 387.5,1614.8 387.7,1619.2 387.9,1619.2 388.1,1624.5 388.3,1621.0 388.5,1618.2 388.7,1616.2 388.9,1615.0 389.1,1611.0 389.2,1609.4 389.4,1604.4 389.6,1605.9 389.8,1601.4 390.0,1600.9 390.2,1599.5 390.5,1590.3 390.7,1592.3 390.9,1592.3 391.1,1584.3 391.4,1586.4 391.6,1585.1 391.8,1582.8 392.0,1577.1 392.3,1578.5 392.5,1576.1 392.7,1571.4 392.9,1572.8 393.2,1568.8 393.4,1566.6 393.6,1568.9 393.7,1570.1 393.9,1574.5 394.0,1575.7 394.2,1580.2 394.3,1581.0 394.5,1580.9 394.6,1584.0 394.8,1588.7 394.9,1588.2 395.1,1592.0 395.2,1594.5 395.4,1595.3 395.5,1592.9 395.7,1600.4 395.8,1602.8 396.0,1604.9 396.1,1605.2 396.3,1611.6 396.4,1611.0 396.6,1612.2 396.7,1614.2 396.9,1618.0 397.3,1616.5 397.7,1611.1 398.0,1609.0 398.4,1613.1 398.8,1609.3 399.2,1606.5 399.5,1604.9 399.9,1601.0 400.3,1597.4 400.9,1596.0 401.6,1604.2 402.2,1606.5 402.9,1606.0 403.1,1604.7 403.4,1597.2 403.6,1601.7 403.9,1599.6 404.1,1593.3 404.4,1592.3 404.6,1591.4 404.8,1587.2 405.1,1587.4 405.3,1582.9 405.6,1581.9 405.8,1578.2 406.1,1572.6 406.3,1573.4 406.5,1573.5 406.7,1584.6 406.9,1580.6 407.0,1585.0 407.2,1586.9 407.4,1590.3 407.6,1590.0 407.8,1589.8 408.0,1593.3 408.2,1591.4 408.3,1597.3 408.5,1601.8 408.7,1597.5 408.9,1604.3 409.0,1607.0 409.1,1610.6 409.2,1613.9 409.3,1611.3 409.3,1614.2 409.4,1613.8 409.5,1617.9 409.6,1623.5 409.7,1629.0 409.8,1624.4 409.9,1632.0 410.0,1632.2 410.1,1632.5 410.2,1640.5 410.2,1632.7 410.3,1640.2 410.4,1643.1 410.5,1649.4 410.6,1647.1 410.8,1648.7 411.1,1647.4 411.3,1640.5 411.5,1640.1 411.7,1638.6 412.0,1634.5 412.2,1631.9 412.4,1628.5 412.6,1625.7 412.9,1621.7 413.1,1626.2 413.3,1618.8 413.5,1613.0 413.8,1615.7 414.0,1612.9 414.3,1610.5 414.6,1608.7 414.9,1609.9 415.1,1603.5 415.4,1600.9 415.7,1597.6 416.0,1596.8 416.3,1593.6 416.5,1592.7 416.8,1596.7 417.1,1588.5 417.4,1585.4 418.3,1581.4 419.1,1585.3 420.0,1580.9 420.9,1576.9 422.0,1576.3 423.2,1573.8 424.3,1570.0 424.7,1569.3 425.0,1566.6 425.4,1565.7 425.8,1562.4 426.2,1560.7 426.5,1554.3 426.9,1552.9 427.1,1550.7 427.3,1546.9 427.4,1548.3 427.6,1545.9 427.8,1540.9 428.0,1540.9 428.1,1543.1 428.3,1537.9 428.5,1530.6 428.7,1530.6 428.9,1530.0 429.0,1526.3 429.2,1525.0 429.4,1522.0 429.7,1522.2 430.0,1518.0 430.4,1512.6 430.7,1514.1 431.0,1510.0 431.4,1508.1 431.7,1504.2 432.0,1503.1 432.3,1502.5 432.6,1505.2 433.0,1509.4 433.3,1510.3 433.6,1509.1 434.0,1519.7 434.3,1517.1 434.6,1522.0 436.3,1523.0 438.0,1527.1 438.9,1530.4 439.7,1526.2 440.5,1536.4 441.4,1535.7 442.6,1536.4 443.7,1541.7 444.9,1542.6 446.6,1543.3 448.3,1546.0 449.1,1549.2 450.0,1551.4 450.9,1553.7 451.7,1556.3 452.3,1554.7 452.8,1557.7 453.4,1563.1 454.0,1568.5 454.5,1566.5 455.1,1570.0 455.5,1573.5 456.0,1575.1 456.4,1578.1 456.9,1581.6 457.3,1578.6 457.7,1584.8 458.2,1586.2 458.6,1588.9 459.5,1586.1 460.3,1582.8 461.1,1580.8 462.0,1580.3 462.4,1580.4 462.8,1582.5 463.1,1592.5 463.5,1593.1 463.9,1591.8 464.3,1595.6 464.6,1594.2 465.0,1592.6 465.4,1600.9 466.6,1599.3 467.7,1605.7 468.9,1607.7 469.0,1608.5 469.1,1603.0 469.1,1598.7 469.2,1598.0 469.3,1594.1 469.4,1591.0 469.5,1591.2 469.5,1588.6 469.6,1585.4 469.7,1582.9 469.8,1580.6 469.9,1580.8 470.0,1581.0 470.0,1575.2 470.1,1578.2 470.2,1567.7 470.3,1569.4 470.4,1564.1 470.4,1563.9 470.5,1562.2 470.6,1559.7 470.7,1563.2 470.8,1566.7 470.9,1565.3 471.0,1566.1 471.0,1570.6 471.1,1573.9 471.2,1574.1 471.3,1579.7 471.4,1583.7 471.5,1579.3 471.6,1585.4 471.7,1589.1 471.8,1585.0 471.9,1591.8 471.9,1593.2 472.0,1592.9 472.1,1601.0 472.2,1600.9 472.3,1601.7 472.4,1605.9 472.5,1608.6 472.6,1611.2 472.7,1613.0 472.7,1614.9 472.8,1613.8 472.9,1617.7 473.0,1621.1 473.1,1623.1 473.4,1614.8 473.8,1623.0 474.1,1615.2 474.4,1611.4 474.7,1607.4 475.1,1609.5 475.4,1606.7 475.7,1604.3 479.1,1604.3 479.6,1600.6 480.1,1598.5 480.6,1595.0 481.1,1592.9 481.6,1591.8 482.1,1588.2 482.6,1587.1 483.1,1586.1 483.6,1581.9 484.1,1580.1 484.5,1578.2 485.0,1577.6 485.5,1573.7 486.0,1570.0 486.3,1572.7 486.7,1574.1 487.0,1575.0 487.4,1578.2 487.7,1582.6 488.0,1583.9 488.4,1584.8 488.7,1585.0 489.1,1586.8 489.4,1592.3 489.5,1590.7 489.6,1589.9 489.7,1586.1 489.8,1580.1 489.9,1580.3 490.0,1578.9 490.1,1574.1 490.2,1574.5 490.3,1571.0 490.4,1567.3 490.5,1564.1 490.6,1566.2 490.7,1562.9 490.8,1558.0 490.9,1555.4 491.0,1557.1 491.1,1552.9 491.3,1551.9 491.5,1547.7 491.7,1549.4 491.9,1543.1 492.1,1539.2 492.3,1541.5 492.5,1536.5 492.7,1535.3 492.9,1532.4 493.0,1527.9 493.2,1525.2 493.4,1525.0 493.6,1526.2 493.8,1518.7 494.0,1521.5 494.2,1516.7 494.4,1511.6 494.6,1511.7 494.8,1510.0 495.0,1508.4 495.2,1503.1 495.4,1498.2 495.6,1501.3 495.8,1495.9 495.9,1497.0 496.1,1489.7 496.3,1491.2 496.5,1487.6 496.7,1483.9 496.9,1484.3 497.1,1482.6 499.2,1483.8 501.4,1484.3 502.6,1485.4 503.7,1486.3 504.9,1491.1 507.4,1493.3 510.0,1494.6 510.7,1493.3 511.4,1500.5 512.0,1502.9 512.7,1507.8 513.4,1506.6 516.9,1508.3 517.1,1512.6 517.4,1513.9 517.6,1516.1 517.9,1518.0 518.1,1517.5 518.4,1525.8 518.6,1526.2 518.9,1526.9 519.1,1527.4 519.4,1532.3 523.7,1532.3 524.6,1532.9 525.4,1528.3 526.2,1522.0 527.1,1522.0 527.6,1525.9 528.1,1530.9 528.6,1529.3 529.1,1532.6 529.6,1533.3 530.1,1535.3 530.6,1539.1 531.1,1543.9 531.6,1550.6 532.1,1546.7 532.5,1548.7 533.0,1553.1 533.5,1553.2 534.0,1556.3 534.3,1560.1 534.5,1562.5 534.8,1560.8 535.0,1563.0 535.3,1567.3 535.6,1571.5 535.8,1572.6 536.1,1576.9 536.4,1573.5 536.6,1579.7 536.9,1579.6 537.1,1583.4 537.4,1585.4 537.6,1583.8 537.8,1578.7 538.0,1578.0 538.2,1573.6 538.4,1574.4 538.6,1569.7 538.8,1568.1 539.0,1567.3 539.3,1563.1 539.5,1564.7 539.7,1558.5 539.9,1559.4 540.1,1555.9 540.3,1550.7 540.5,1550.2 540.7,1546.5 540.9,1546.0 541.5,1542.4 542.0,1539.7 542.6,1537.4 542.8,1543.6 542.9,1541.2 543.1,1547.8 543.2,1547.7 543.4,1546.3 543.5,1546.5 543.7,1555.2 543.8,1551.8 544.0,1560.0 544.1,1563.0 544.3,1563.1 544.4,1566.2 544.5,1567.1 544.6,1569.2 544.7,1572.5 544.8,1573.6 544.9,1575.3 545.0,1577.9 545.1,1583.4 545.2,1581.8 545.3,1586.1 545.4,1585.1 545.5,1588.3 545.6,1589.1 545.7,1593.8 545.8,1597.9 545.9,1599.3 546.0,1600.9 549.4,1600.9 550.0,1602.1 550.6,1606.8 551.1,1607.0 551.7,1610.8 552.3,1612.9 552.9,1614.6 556.3,1614.6 556.7,1618.0 557.1,1613.9 557.4,1618.7 557.8,1625.4 558.2,1625.8 558.6,1633.0 558.9,1630.0 559.3,1631.6 559.7,1635.1 561.0,1640.9 562.3,1640.3 562.5,1643.7 562.7,1648.7 562.9,1648.0 563.0,1648.7 563.2,1652.8 563.4,1651.8 563.6,1654.7 563.8,1656.7 564.0,1659.6 564.2,1664.0 564.3,1663.5 564.5,1667.4 564.7,1667.8 564.9,1671.1 565.6,1670.6 566.3,1660.4 566.9,1663.5 567.6,1661.9 568.3,1659.1 568.5,1654.5 568.6,1656.7 568.8,1652.7 569.0,1652.7 569.2,1649.7 569.3,1646.8 569.5,1642.8 569.7,1638.5 569.9,1638.1 570.0,1635.3 570.2,1634.6 570.4,1630.8 570.6,1636.0 570.7,1623.8 570.9,1624.9 571.5,1625.2 572.1,1619.6 572.8,1617.9 573.4,1616.3 574.3,1616.1 575.1,1612.0 576.0,1607.3 576.9,1607.7 577.5,1606.3 578.0,1602.7 578.6,1596.5 579.2,1599.0 579.7,1594.0 580.3,1594.0 580.7,1590.1 581.1,1590.3 581.6,1587.5 582.0,1583.9 582.4,1586.8 582.9,1580.7 583.3,1576.2 583.7,1575.1 584.4,1573.2 585.1,1570.0 585.7,1563.2 586.4,1562.2 587.1,1563.1 587.2,1557.8 587.4,1562.8 587.5,1555.7 587.6,1553.2 587.7,1550.3 587.9,1551.3 588.0,1546.9 588.1,1548.2 588.3,1543.9 588.4,1543.4 588.5,1537.3 588.6,1536.0 588.8,1532.0 588.9,1530.6 589.1,1532.5 589.2,1531.4 589.4,1536.1 589.5,1537.6 589.7,1540.5 589.8,1546.7 590.0,1546.9 590.1,1551.2 590.3,1552.7 590.5,1555.1 590.6,1557.5 590.8,1556.3 590.9,1561.6 591.1,1561.4 591.2,1563.2 591.4,1566.6 591.6,1566.9 591.9,1566.8 592.1,1557.9 592.4,1561.5 592.6,1557.3 592.9,1551.6 593.1,1551.7 593.4,1549.7 593.6,1547.5 593.9,1543.8 594.1,1539.6 594.4,1540.2 594.6,1539.7 594.9,1535.7 595.2,1539.7 595.5,1541.7 595.7,1544.9 596.0,1542.8 596.3,1547.1 596.6,1550.2 596.8,1553.8 597.1,1554.3 597.4,1556.3 597.9,1559.8 598.4,1561.5 598.9,1568.1 599.4,1561.4 599.9,1568.5 600.4,1576.2 600.9,1573.4 601.6,1576.3 602.3,1574.3 602.9,1580.9 603.6,1580.0 604.3,1585.4 605.0,1581.6 605.7,1581.1 606.3,1581.8 607.0,1576.8 607.7,1573.4 608.6,1577.4 609.4,1580.7 610.2,1581.5 611.1,1583.7 611.8,1584.3 612.5,1588.3 613.2,1591.6 613.9,1592.7 614.6,1595.7 614.9,1592.0 615.2,1590.4 615.5,1585.7 615.7,1584.4 616.0,1584.1 616.3,1581.2 616.6,1579.8 616.9,1580.4 617.1,1575.8 617.4,1572.8 617.7,1568.1 618.0,1568.3 618.3,1568.3 618.5,1573.6 618.8,1573.2 619.0,1578.2 619.3,1577.2 619.6,1582.0 619.8,1583.8 620.1,1588.3 620.4,1587.6 620.6,1589.9 620.9,1593.4 621.1,1595.3 621.4,1597.4 621.9,1603.2 622.4,1601.3 622.9,1602.9 623.4,1605.6 623.9,1609.5 624.4,1611.2 624.9,1612.9 628.3,1614.6 629.4,1612.9 629.7,1616.8 629.9,1614.8 630.2,1625.3 630.4,1626.4 630.7,1624.8 631.0,1624.7 631.2,1630.0 631.5,1633.0 631.7,1629.8 632.0,1636.9 632.2,1634.6 632.4,1629.2 632.6,1631.0 632.8,1630.7 632.9,1627.6 633.1,1620.0 633.3,1623.8 633.5,1620.5 633.7,1615.5 633.9,1615.1 634.1,1614.9 634.3,1608.7 634.5,1607.1 634.6,1603.7 634.8,1605.0 635.0,1595.7 635.2,1601.0 635.4,1595.7 635.7,1591.4 635.9,1593.2 636.2,1585.5 636.5,1584.8 636.7,1583.2 637.0,1584.0 637.3,1576.6 637.6,1579.1 637.8,1574.2 638.1,1575.9 638.4,1570.4 638.6,1569.9 638.9,1566.6 639.1,1568.6 639.4,1575.0 639.6,1572.8 639.9,1575.8 640.1,1582.4 640.4,1580.7 640.6,1584.3 640.8,1583.6 641.1,1587.9 641.3,1585.0 641.6,1592.4 641.8,1593.1 642.1,1593.6 642.3,1599.1 642.6,1598.3 643.0,1606.0 643.3,1606.7 643.7,1604.8 644.0,1614.1 644.3,1611.0 644.7,1613.9 645.0,1617.5 645.4,1616.8 645.7,1621.4 646.4,1620.1 647.0,1624.1 647.6,1630.4 648.3,1630.0 648.5,1629.8 648.6,1622.2 648.8,1625.8 648.9,1621.1 649.1,1619.8 649.3,1616.6 649.4,1615.1 649.6,1609.9 649.8,1607.8 649.9,1606.0 650.1,1604.5 650.2,1604.3 650.4,1598.2 650.6,1601.9 650.7,1594.9 650.9,1594.0 651.0,1595.0 651.2,1600.1 651.3,1601.8 651.5,1602.4 651.6,1603.2 651.7,1605.6 651.9,1606.6 652.0,1614.7 652.1,1616.8 652.3,1620.8 652.4,1620.2 652.6,1622.1 652.7,1625.3 652.8,1628.0 653.0,1627.7 653.1,1631.3 653.3,1637.4 653.4,1635.1 653.8,1629.1 654.1,1627.2 654.5,1625.7 654.9,1626.9 655.3,1625.4 655.6,1619.7 656.0,1618.0 656.4,1617.1 656.9,1613.3 657.3,1611.8 657.7,1607.7 658.2,1606.5 658.6,1604.3 660.3,1602.6 662.0,1600.9 662.5,1600.8 663.0,1600.7 663.5,1589.7 663.9,1592.2 664.4,1588.6 664.9,1588.2 665.4,1583.7 665.6,1588.2 665.8,1589.8 666.0,1592.2 666.2,1590.7 666.4,1591.3 666.6,1600.7 666.8,1602.0 667.0,1599.7 667.2,1606.6 667.4,1607.6 667.6,1603.2 667.8,1612.6 668.0,1612.9 668.1,1613.1 668.2,1619.9 668.3,1618.3 668.5,1620.4 668.6,1621.0 668.7,1626.1 668.8,1631.0 668.9,1629.7 669.0,1629.5 669.1,1640.2 669.2,1641.9 669.4,1641.7 669.5,1641.4 669.6,1642.3 669.7,1647.1 670.0,1641.4 670.2,1643.8 670.5,1643.1 670.7,1635.9 671.0,1635.9 671.3,1633.1 671.5,1630.9 671.8,1630.3 672.1,1631.4 672.3,1623.4 672.6,1624.3 672.8,1622.5 673.1,1618.0 673.6,1615.0 674.1,1612.8 674.6,1607.8 675.1,1610.5 675.6,1604.7 676.1,1602.0 676.6,1600.9 677.5,1603.6 678.3,1604.2 679.1,1606.3 680.0,1611.1 681.1,1608.2 682.3,1609.7 683.4,1604.3 683.5,1601.6 683.6,1601.0 683.7,1594.5 683.8,1591.3 683.9,1597.1 684.0,1590.1 684.1,1585.5 684.2,1586.3 684.3,1585.6 684.4,1578.5 684.5,1578.0 684.6,1578.2 684.7,1573.5 684.8,1574.9 684.9,1573.1 685.0,1569.8 685.1,1566.6 685.4,1563.4 685.7,1561.9 686.0,1558.4 686.3,1557.2 686.6,1555.9 686.9,1552.9 687.4,1549.8 687.9,1550.1 688.4,1551.0 688.8,1541.9 689.3,1541.3 689.8,1539.9 690.3,1535.7 690.5,1539.3 690.6,1539.7 690.8,1541.4 691.0,1546.8 691.1,1548.2 691.3,1550.2 691.5,1549.6 691.7,1554.9 691.8,1557.5 692.0,1558.0 692.2,1555.4 692.4,1554.9 692.6,1555.9 692.9,1545.0 693.1,1548.0 693.3,1542.0 693.5,1539.4 693.7,1539.5 693.9,1538.9 694.1,1535.6 694.3,1530.8 694.5,1527.9 694.8,1527.6 695.0,1526.5 695.2,1522.5 695.4,1522.0 695.7,1516.6 695.9,1521.3 696.2,1513.5 696.4,1512.7 696.7,1509.7 697.0,1507.4 697.2,1506.5 697.5,1503.5 697.7,1503.2 698.0,1499.7 698.3,1499.4 698.5,1501.0 698.8,1510.5 699.0,1508.5 699.3,1512.5 699.6,1515.6 699.8,1516.5 700.1,1517.6 700.3,1516.5 700.6,1522.0 701.5,1521.2 702.3,1529.2 703.1,1531.2 704.0,1532.3 704.5,1536.0 705.0,1533.7 705.5,1535.1 705.9,1539.8 706.4,1542.0 706.9,1547.3 707.4,1549.4 708.6,1549.5 709.7,1557.4 710.9,1556.3 711.0,1552.7 711.1,1550.5 711.3,1551.3 711.4,1547.9 711.5,1543.0 711.6,1544.3 711.7,1544.4 711.9,1535.4 712.0,1535.2 712.1,1531.1 712.2,1527.0 712.3,1530.2 712.4,1528.1 712.6,1526.4 712.7,1522.9 712.8,1515.4 712.9,1517.4 713.0,1513.7 713.2,1510.4 713.3,1508.2 713.4,1508.3 713.5,1512.2 713.6,1512.1 713.7,1519.2 713.7,1518.2 713.8,1515.4 713.9,1523.6 714.0,1526.6 714.1,1526.2 714.2,1525.8 714.2,1534.4 714.3,1530.0 714.4,1534.9 714.5,1533.2 714.6,1536.8 714.7,1538.1 714.8,1546.3 714.8,1548.7 714.9,1547.6 715.0,1547.8 715.1,1552.9 715.5,1555.1 716.0,1558.3 716.4,1556.5 716.8,1559.6 717.3,1564.1 717.7,1566.6 718.4,1570.5 719.1,1571.6 719.7,1574.8 720.4,1573.5 721.1,1578.6 721.6,1575.7 722.1,1584.2 722.6,1584.0 723.1,1588.1 723.6,1590.0 724.1,1594.3 724.6,1595.7 725.1,1596.5 725.6,1603.7 726.1,1603.1 726.5,1606.7 727.0,1609.3 727.5,1612.7 728.0,1612.9 728.2,1616.0 728.3,1613.7 728.5,1618.4 728.7,1626.0 728.9,1625.3 729.0,1627.8 729.2,1629.9 729.4,1629.8 729.6,1632.0 729.7,1634.3 729.9,1640.5 730.1,1641.0 730.3,1646.4 730.4,1645.9 730.6,1647.1 731.0,1648.7 731.3,1643.2 731.7,1637.2 732.0,1641.1 732.4,1635.6 732.7,1635.0 733.1,1630.0 733.3,1628.2 733.6,1624.7 733.8,1623.5 734.0,1618.4 734.3,1616.0 734.5,1614.4 734.7,1612.9 735.0,1608.8 735.2,1609.2 735.4,1607.8 735.7,1609.2 735.9,1606.5 736.1,1600.2 736.4,1599.9 736.6,1595.7 736.8,1592.9 737.0,1591.9 737.2,1588.7 737.4,1585.3 737.6,1584.3 737.8,1578.6 738.0,1580.4 738.2,1576.5 738.4,1572.5 738.6,1571.7 738.8,1571.4 739.0,1566.4 739.2,1566.6 739.4,1564.5 739.6,1564.3 739.8,1556.3 740.0,1556.3 740.9,1553.5 741.7,1552.3 742.5,1551.8 743.4,1546.0 745.1,1548.3 746.9,1549.4 747.3,1548.8 747.7,1541.7 748.0,1541.3 748.4,1543.9 748.8,1537.4 749.2,1540.4 749.5,1531.9 749.9,1530.6 750.3,1528.9 750.8,1527.9 751.3,1535.2 751.8,1536.8 752.2,1543.0 752.7,1541.5 753.2,1543.0 753.7,1546.0 757.1,1546.0 757.7,1540.7 758.3,1541.3 758.9,1541.2 759.4,1538.5 760.0,1537.2 760.6,1532.3 761.2,1536.5 761.7,1536.8 762.3,1540.5 762.9,1541.8 763.4,1540.8 764.0,1546.0 765.1,1547.4 766.3,1542.2 767.4,1539.1 769.1,1535.1 770.9,1535.7 771.8,1539.1 772.6,1541.5 773.4,1545.6 774.3,1546.0 774.4,1551.4 774.5,1543.9 774.6,1553.9 774.6,1558.2 774.7,1555.1 774.8,1555.3 774.9,1562.2 775.0,1564.6 775.1,1566.8 775.2,1565.9 775.3,1569.5 775.3,1573.2 775.4,1576.6 775.5,1582.0 775.6,1580.1 775.7,1580.4 775.8,1578.8 775.9,1588.5 775.9,1588.1 776.0,1590.4 776.1,1590.7 776.2,1596.7 776.3,1593.4 776.4,1599.8 776.5,1602.0 776.6,1604.6 776.6,1609.1 776.7,1608.2 776.8,1610.9 776.9,1612.9 777.2,1612.5 777.6,1605.1 777.9,1605.6 778.3,1604.1 778.6,1603.8 778.9,1597.8 779.3,1599.0 779.6,1595.9 780.0,1589.6 780.3,1590.6 782.0,1585.6 783.7,1587.1 786.3,1590.6 786.7,1585.2 787.2,1586.3 787.6,1584.2 788.0,1583.0 788.5,1581.0 788.9,1576.9 789.0,1577.9 789.1,1583.7 789.2,1585.4 789.3,1586.9 789.3,1589.2 789.4,1587.6 789.5,1593.5 789.6,1592.7 789.7,1594.6 789.8,1598.7 789.9,1602.0 790.0,1603.8 790.1,1605.5 790.2,1606.3 790.2,1611.1 790.3,1611.3 790.4,1612.1 790.5,1617.7 790.6,1619.7 791.9,1620.3 793.1,1614.6 793.3,1611.4 793.5,1607.7 793.7,1610.8 793.9,1609.2 794.1,1602.5 794.3,1600.4 794.5,1599.0 794.7,1602.7 794.9,1594.3 795.0,1593.9 795.2,1590.4 795.4,1583.2 795.6,1582.4 795.8,1579.9 796.0,1581.2 796.2,1578.2 796.4,1579.6 796.6,1573.4 798.3,1571.1 800.0,1570.0 801.7,1572.4 803.4,1573.4 804.0,1571.3 804.6,1569.1 805.1,1571.6 805.7,1564.9 806.3,1565.2 806.9,1559.7 808.6,1560.8 810.3,1556.3 810.6,1552.6 810.9,1553.1 811.2,1548.5 811.5,1547.2 811.8,1545.0 812.2,1542.3 812.5,1538.9 812.8,1541.0 813.1,1534.7 813.4,1534.5 813.7,1530.6 814.1,1532.1 814.4,1527.5 814.8,1526.2 815.2,1524.8 815.6,1521.9 815.9,1521.1 816.3,1515.1 816.5,1514.2 816.6,1523.8 816.8,1521.8 816.9,1520.2 817.1,1524.8 817.2,1525.4 817.4,1530.6 817.5,1529.6 817.7,1532.9 817.8,1538.0 818.0,1539.9 818.1,1540.0 818.3,1543.5 818.4,1546.0 818.6,1548.6 818.7,1550.7 818.9,1552.9 819.1,1554.7 819.4,1559.4 819.6,1556.2 819.8,1560.9 820.0,1564.6 820.3,1565.7 820.5,1567.6 820.7,1570.2 820.9,1573.9 821.2,1578.4 821.4,1577.6 821.6,1579.7 821.8,1583.3 822.1,1584.3 822.3,1587.1 824.0,1584.6 825.7,1590.6 829.1,1590.6 829.5,1593.5 829.9,1594.3 830.3,1596.2 830.7,1601.1 831.0,1602.1 831.4,1603.0 831.8,1601.8 832.2,1605.0 832.6,1611.1 832.8,1608.9 833.0,1606.4 833.2,1605.4 833.4,1602.7 833.6,1599.0 833.8,1595.0 834.0,1593.2 834.2,1593.1 834.4,1588.6 834.6,1590.6 834.8,1583.8 835.0,1580.5 835.2,1581.8 835.4,1576.2 835.6,1581.4 835.8,1573.4 836.0,1573.4 836.4,1571.0 836.8,1568.3 837.1,1564.8 837.5,1560.4 837.9,1557.9 838.3,1561.6 838.6,1559.7 839.0,1559.9 839.4,1552.9 839.6,1552.0 839.9,1558.7 840.1,1559.7 840.3,1563.9 840.6,1563.2 840.8,1568.2 841.0,1570.8 841.3,1572.5 841.5,1576.6 841.7,1575.3 842.0,1581.4 842.2,1578.7 842.4,1586.2 842.7,1578.8 842.9,1587.1 843.1,1589.4 843.3,1589.8 843.5,1593.8 843.7,1598.3 843.9,1599.8 844.1,1600.7 844.3,1606.4 844.5,1601.6 844.7,1605.3 844.9,1612.7 845.1,1612.3 845.3,1609.2 845.5,1616.8 845.7,1615.6 845.9,1623.7 846.1,1625.2 846.3,1624.9 848.5,1625.4 850.6,1628.3 851.0,1633.4 851.4,1631.0 851.8,1637.2 852.2,1638.7 852.6,1639.4 853.0,1638.9 853.4,1644.3 853.6,1646.0 853.9,1643.9 854.1,1650.1 854.3,1649.6 854.6,1658.7 854.8,1656.2 855.1,1655.3 855.3,1664.3 855.5,1666.1 855.8,1666.5 856.0,1670.0 856.2,1672.3 856.5,1667.0 856.7,1663.1 856.9,1659.2 857.2,1651.8 857.4,1657.0 857.7,1655.8 857.9,1650.0 858.1,1645.9 858.4,1646.5 858.6,1644.3 858.8,1638.4 859.0,1639.8 859.1,1639.2 859.3,1638.6 859.5,1633.6 859.7,1631.2 859.9,1630.1 860.0,1629.3 860.2,1623.3 860.4,1619.0 860.6,1617.7 860.7,1614.4 860.9,1613.0 861.1,1612.4 861.3,1611.2 861.5,1608.5 861.6,1606.1 861.8,1602.9 862.0,1601.4 862.4,1600.1 862.8,1598.8 863.1,1596.2 863.5,1595.6 863.9,1589.4 864.3,1587.2 864.6,1589.2 865.0,1583.6 865.4,1580.9 867.1,1583.5 868.9,1584.3 870.6,1585.3 872.3,1587.7 872.7,1592.1 873.2,1591.4 873.6,1592.3 874.0,1596.7 874.5,1598.1 874.9,1601.4 875.1,1601.0 875.3,1596.1 875.5,1595.0 875.7,1592.0 875.9,1591.0 876.1,1586.6 876.2,1588.2 876.4,1580.4 876.6,1580.4 876.8,1577.5 877.0,1578.2 877.2,1574.6 877.4,1572.3 880.9,1572.3 881.8,1575.5 882.6,1575.9 883.4,1577.2 884.3,1580.9 884.5,1576.2 884.7,1575.8 884.9,1573.1 885.0,1572.7 885.2,1570.6 885.4,1569.8 885.6,1565.2 885.8,1561.6 886.0,1558.7 886.2,1559.0 886.3,1557.4 886.5,1558.7 886.7,1552.6 886.9,1550.0 887.2,1551.5 887.5,1549.4 887.8,1540.7 888.1,1543.3 888.4,1540.8 888.8,1538.9 889.1,1533.6 889.4,1533.4 889.7,1527.9 890.0,1526.5 890.3,1524.3 890.5,1522.0 890.8,1523.5 891.0,1516.8 891.2,1517.1 891.5,1512.8 891.7,1508.7 892.0,1508.5 892.2,1507.1 892.4,1501.7 892.7,1502.3 892.9,1498.6 893.0,1494.7 893.1,1492.0 893.3,1492.1 893.4,1488.8 893.5,1484.8 893.6,1481.0 893.8,1482.4 893.9,1480.5 894.0,1476.6 894.1,1475.7 894.2,1469.6 894.4,1471.5 894.5,1469.2 894.6,1466.0 895.0,1469.0 895.5,1469.4 895.9,1473.3 896.3,1475.7 896.7,1480.2 897.1,1480.8 897.6,1483.1 898.0,1484.9 899.7,1485.9 901.4,1490.0 901.7,1489.5 902.0,1487.9 902.4,1481.8 902.7,1482.0 903.0,1478.9 903.4,1475.7 903.7,1470.6 904.0,1471.1 904.3,1477.4 904.5,1471.8 904.8,1479.0 905.0,1479.9 905.3,1485.6 905.6,1484.6 905.8,1488.0 906.1,1491.6 906.3,1493.7 906.6,1495.1 907.4,1496.3 908.3,1501.2 909.1,1502.0 909.3,1505.2 909.6,1508.8 909.8,1507.9 910.0,1511.2 910.3,1512.8 910.5,1514.2 910.8,1518.9 911.0,1521.6 911.2,1526.1 911.5,1524.6 911.7,1527.7 912.4,1530.7 913.0,1534.5 913.6,1533.9 914.3,1536.3 914.7,1538.7 915.2,1541.2 915.6,1541.6 916.0,1543.3 916.5,1550.2 916.9,1550.0 917.5,1552.5 918.1,1554.1 918.8,1553.7 919.4,1558.6 919.8,1561.1 920.3,1565.7 920.7,1562.9 921.1,1565.8 921.6,1572.4 922.0,1572.3 923.1,1577.7 924.3,1580.2 925.4,1579.1 926.0,1580.2 926.6,1585.0 927.1,1584.4 927.7,1589.4 928.3,1589.8 928.9,1592.9 929.8,1595.5 930.6,1600.1 931.4,1600.0 932.3,1601.4 932.5,1603.1 932.8,1606.0 933.0,1608.6 933.3,1609.1 933.5,1612.9 933.8,1616.0 934.0,1616.9 934.3,1618.0 934.6,1607.7 935.0,1607.2 935.3,1604.7 935.6,1607.0 936.0,1608.1 936.3,1600.8 936.6,1598.0 936.9,1596.0 937.2,1595.9 937.4,1585.8 937.7,1588.5 938.0,1579.7 938.3,1584.6 938.5,1580.9 938.8,1578.6 939.1,1577.4 939.8,1575.7 940.5,1571.3 941.2,1572.6 941.9,1567.8 942.6,1565.4 943.1,1564.0 943.6,1566.5 944.1,1557.8 944.5,1558.6 945.0,1552.6 945.5,1554.9 946.0,1550.0 946.6,1549.8 947.1,1545.7 947.7,1545.3 948.3,1544.4 948.8,1541.6 949.4,1536.3 951.1,1534.6 952.9,1532.9 953.5,1535.1 954.0,1539.9 954.6,1536.5 955.2,1540.7 955.7,1545.4 956.3,1546.6 956.9,1550.1 957.4,1555.2 958.0,1557.3 958.6,1556.4 959.1,1559.0 959.7,1560.3 960.1,1559.7 960.5,1564.5 960.8,1567.7 961.2,1569.0 961.6,1571.9 962.0,1575.4 962.3,1574.2 962.7,1577.4 963.1,1580.9 963.6,1579.5 964.1,1588.3 964.6,1585.9 965.1,1587.0 965.6,1594.8 966.1,1595.1 966.6,1598.0 967.1,1602.5 967.6,1602.1 968.1,1610.0 968.5,1609.3 969.0,1610.5 969.5,1612.9 970.0,1615.1 970.7,1617.1 971.4,1621.7 972.0,1626.7 972.7,1623.8 973.4,1627.1 976.9,1625.4 978.6,1624.8 980.3,1628.9 981.4,1632.5 982.6,1635.8 983.7,1635.7 984.0,1634.9 984.4,1639.0 984.7,1640.7 985.1,1646.5 985.4,1647.7 985.8,1646.5 986.2,1641.5 986.6,1638.4 987.0,1640.0 987.3,1631.8 987.7,1635.4 988.1,1631.3 988.5,1633.6 988.9,1627.1 989.6,1626.9 990.3,1621.0 990.9,1619.3 991.6,1616.9 992.3,1615.1 993.1,1611.0 994.0,1610.2 994.9,1609.5 995.7,1604.9 996.1,1599.3 996.5,1599.8 996.8,1601.3 997.2,1597.4 997.6,1591.7 998.0,1589.4 998.3,1587.0 998.7,1583.1 999.1,1584.3 999.4,1584.3 999.6,1579.5 999.9,1575.4 1000.1,1571.4 1000.4,1571.2 1000.6,1568.4 1000.9,1567.1 1002.0,1568.6 1003.2,1561.6 1004.3,1560.3 1006.0,1563.1 1007.7,1565.4 1008.4,1570.1 1009.1,1571.6 1009.7,1572.2 1010.4,1570.3 1011.1,1577.4 1012.9,1583.0 1014.6,1582.6 1014.9,1586.2 1015.2,1586.3 1015.5,1589.4 1015.8,1589.9 1016.1,1592.3 1016.5,1593.4 1016.8,1600.0 1017.1,1602.4 1017.4,1604.0 1017.7,1607.7 1018.0,1608.3 1018.3,1607.3 1018.6,1604.2 1018.9,1599.8 1019.2,1600.9 1019.5,1600.0 1019.9,1596.6 1020.2,1595.7 1020.5,1589.8 1020.8,1586.5 1021.1,1589.2 1021.4,1584.3 1022.6,1580.7 1023.7,1580.2 1024.9,1577.4 1025.8,1574.9 1026.6,1573.2 1027.5,1570.4 1028.3,1568.9 1031.7,1567.1 1031.9,1563.7 1032.1,1558.7 1032.3,1564.4 1032.5,1558.4 1032.6,1551.6 1032.8,1551.5 1033.0,1548.7 1033.2,1547.3 1033.4,1546.6 1034.3,1538.5 1035.2,1542.7 1036.0,1542.4 1036.9,1536.3 1037.5,1538.1 1038.0,1542.5 1038.6,1544.4 1039.2,1542.7 1039.7,1550.3 1040.3,1550.0 1040.5,1548.7 1040.8,1553.3 1041.0,1556.1 1041.2,1561.9 1041.4,1561.7 1041.7,1563.5 1041.9,1564.3 1042.1,1568.5 1042.3,1570.7 1042.6,1574.4 1042.8,1578.2 1043.0,1579.0 1043.2,1579.8 1043.5,1581.7 1043.7,1584.3 1043.9,1590.0 1044.0,1589.3 1044.2,1591.1 1044.4,1597.3 1044.6,1599.1 1044.7,1599.2 1044.9,1600.1 1045.1,1601.2 1045.3,1607.2 1045.4,1606.2 1045.6,1611.5 1045.8,1610.1 1046.0,1614.3 1046.1,1617.2 1046.3,1618.6 1046.7,1616.5 1047.0,1614.2 1047.4,1612.0 1047.8,1606.4 1048.2,1603.9 1048.5,1603.5 1048.9,1601.4 1049.1,1607.6 1049.4,1605.7 1049.6,1606.3 1049.8,1609.1 1050.0,1612.9 1050.3,1617.7 1050.5,1616.2 1050.7,1620.9 1050.9,1622.4 1051.2,1623.5 1051.4,1624.5 1051.6,1628.5 1051.8,1629.6 1052.1,1634.6 1052.3,1635.7 1052.5,1634.1 1052.6,1642.6 1052.8,1644.0 1053.0,1645.9 1053.2,1650.1 1053.3,1650.4 1053.5,1647.6 1053.7,1653.7 1053.8,1656.7 1054.0,1658.0 1054.6,1654.2 1055.1,1651.0 1055.7,1652.1 1056.3,1650.0 1056.8,1645.7 1057.4,1644.3 1057.7,1641.5 1057.9,1638.6 1058.2,1636.1 1058.4,1634.9 1058.7,1635.0 1058.9,1626.9 1059.2,1627.3 1059.4,1629.1 1059.7,1624.0 1059.9,1621.3 1060.2,1620.5 1060.4,1614.2 1060.7,1611.4 1060.9,1611.7 1061.3,1605.8 1061.8,1603.9 1062.2,1605.2 1062.6,1604.1 1063.0,1599.1 1063.5,1596.1 1063.9,1596.1 1064.3,1592.9 1064.7,1596.6 1065.2,1598.2 1065.6,1595.9 1066.0,1601.1 1066.4,1599.2 1066.8,1607.5 1067.3,1607.5 1067.7,1611.7 1067.9,1612.5 1068.2,1619.3 1068.4,1621.2 1068.7,1621.6 1068.9,1623.3 1069.2,1625.3 1069.4,1625.9 1069.6,1629.2 1069.9,1635.7 1070.1,1631.9 1070.4,1634.6 1070.6,1638.5 1070.9,1642.3 1071.1,1642.6 1072.0,1646.5 1072.8,1644.8 1073.7,1648.7 1074.6,1651.1 1075.1,1648.3 1075.6,1644.1 1076.1,1644.7 1076.5,1641.3 1077.0,1642.1 1077.5,1638.8 1078.0,1635.7 1078.7,1631.7 1079.3,1631.1 1080.0,1628.6 1080.1,1625.6 1080.3,1622.7 1080.4,1620.8 1080.5,1621.8 1080.6,1616.4 1080.8,1611.4 1080.9,1611.1 1081.0,1612.2 1081.1,1612.9 1081.3,1603.7 1081.4,1603.0 1081.5,1600.8 1081.6,1596.2 1081.8,1597.8 1081.9,1594.6 1082.0,1593.0 1082.1,1595.0 1082.3,1587.3 1082.4,1587.3 1082.5,1585.2 1082.6,1579.8 1082.8,1577.6 1082.9,1576.6 1083.5,1577.7 1084.0,1573.7 1084.6,1570.3 1085.1,1565.4 1085.7,1567.4 1086.2,1564.4 1086.8,1561.1 1088.1,1568.4 1089.3,1569.5 1090.6,1568.9 1090.9,1572.9 1091.1,1574.0 1091.4,1575.9 1091.7,1576.8 1091.9,1580.9 1092.2,1583.1 1092.4,1586.2 1092.7,1589.4 1093.0,1590.0 1093.2,1590.5 1093.5,1593.9 1094.2,1593.4 1094.8,1592.7 1095.5,1585.4 1096.1,1585.8 1096.8,1583.8 1097.4,1580.4 1097.6,1583.8 1097.9,1586.0 1098.1,1587.0 1098.4,1589.2 1098.6,1595.3 1098.8,1597.6 1099.1,1593.2 1099.3,1593.0 1099.6,1601.6 1099.8,1601.5 1100.1,1604.0 1100.3,1607.4 1100.4,1606.3 1100.6,1612.7 1100.7,1614.1 1100.8,1615.4 1100.9,1620.7 1101.1,1626.3 1101.2,1626.5 1101.3,1628.2 1101.4,1627.1 1101.6,1631.6 1101.7,1632.4 1101.8,1637.3 1102.0,1638.3 1102.1,1639.3 1102.2,1642.8 1102.3,1642.4 1102.5,1647.9 1102.6,1651.7 1102.7,1650.0 1102.8,1654.2 1103.0,1651.8 1103.1,1657.6 1104.1,1657.2 1105.0,1654.7 1106.0,1648.2 1107.0,1648.0 1107.2,1649.4 1107.5,1643.7 1107.7,1637.4 1108.0,1635.9 1108.2,1638.4 1108.5,1633.7 1108.7,1634.3 1109.0,1626.3 1109.2,1627.1 1109.4,1627.2 1109.7,1621.3 1109.9,1621.9 1110.2,1617.4 1110.4,1616.6 1110.7,1614.3 1110.9,1611.3 1111.2,1613.8 1111.5,1604.2 1111.9,1606.2 1112.2,1605.1 1112.5,1597.6 1112.8,1598.0 1113.1,1600.5 1113.4,1595.5 1113.8,1584.7 1114.1,1588.3 1114.4,1582.9 1114.7,1584.3 1115.1,1582.6 1115.5,1578.1 1115.9,1576.1 1116.3,1573.2 1116.7,1573.3 1117.0,1569.4 1117.4,1566.1 1117.8,1565.3 1118.2,1564.3 1118.6,1561.1 1118.8,1557.1 1119.0,1559.1 1119.2,1551.0 1119.4,1553.2 1119.6,1549.3 1119.8,1551.3 1120.0,1544.3 1120.3,1542.1 1120.5,1538.4 1120.7,1543.3 1120.9,1538.2 1121.1,1532.4 1121.3,1531.8 1121.5,1530.3 1122.1,1526.0 1122.8,1529.1 1123.4,1524.4 1124.0,1516.9 1124.7,1519.5 1125.3,1516.8 1125.7,1521.0 1126.0,1521.4 1126.4,1524.7 1126.7,1525.7 1127.1,1528.7 1127.4,1530.9 1127.8,1531.3 1128.1,1535.8 1128.5,1537.7 1128.8,1539.5 1129.2,1541.9 1129.7,1542.8 1130.2,1544.5 1130.6,1549.6 1131.1,1553.3 1131.6,1548.7 1132.0,1555.2 1132.5,1561.6 1133.0,1561.1 1133.8,1565.4 1134.6,1564.2 1135.3,1571.0 1136.1,1568.3 1136.9,1572.7 1138.2,1569.1 1139.5,1573.0 1140.8,1566.9 1141.1,1568.2 1141.4,1570.9 1141.8,1570.1 1142.1,1573.7 1142.4,1575.6 1142.7,1580.1 1143.0,1578.7 1143.3,1587.2 1143.6,1586.4 1144.0,1588.1 1144.3,1590.3 1144.6,1593.9 1145.1,1597.9 1145.6,1602.0 1146.1,1600.3 1146.5,1607.0 1147.0,1609.4 1147.5,1611.2 1148.0,1611.4 1148.5,1613.2 1148.9,1612.2 1149.3,1619.0 1149.7,1618.9 1150.2,1622.4 1150.6,1620.2 1151.0,1625.8 1151.4,1628.6 1155.2,1630.6 1155.6,1633.5 1155.9,1633.4 1156.3,1638.5 1156.7,1643.8 1157.0,1643.2 1157.4,1643.6 1157.7,1652.6 1158.1,1649.9 1158.3,1643.1 1158.5,1643.5 1158.7,1644.2 1158.9,1639.8 1159.1,1634.0 1159.3,1637.2 1159.5,1636.2 1159.8,1630.5 1160.0,1633.2 1160.2,1628.9 1160.4,1628.2 1160.6,1620.1 1160.8,1621.2 1161.0,1619.0 1161.1,1620.2 1161.2,1618.9 1161.3,1615.1 1161.4,1610.1 1161.6,1608.3 1161.7,1604.3 1161.8,1605.8 1161.9,1599.7 1162.0,1599.2 1162.1,1592.3 1162.2,1591.3 1162.3,1596.1 1162.5,1590.2 1162.6,1588.3 1162.7,1580.9 1162.8,1583.3 1162.9,1585.6 1163.0,1575.7 1163.1,1571.6 1163.2,1574.1 1163.3,1571.1 1163.5,1569.6 1163.6,1565.1 1163.7,1562.6 1163.8,1560.7 1163.9,1561.1 1164.2,1560.3 1164.5,1556.6 1164.7,1556.3 1165.0,1550.0 1165.3,1551.4 1165.6,1547.0 1165.8,1545.9 1166.1,1545.5 1166.4,1541.4 1166.7,1538.3 1167.0,1533.3 1167.2,1534.8 1167.5,1534.2 1167.8,1530.3 1169.7,1527.0 1171.6,1526.4 1171.8,1524.0 1172.1,1518.0 1172.3,1516.7 1172.6,1518.1 1172.8,1517.8 1173.1,1512.0 1173.3,1506.8 1173.5,1507.3 1173.8,1502.4 1174.0,1502.9 1174.3,1505.4 1174.5,1499.6 1174.8,1496.3 1175.0,1496.6 1175.3,1491.3 1175.5,1489.8 1175.7,1492.9 1175.9,1494.9 1176.1,1497.8 1176.3,1496.0 1176.5,1503.0 1176.7,1505.8 1177.0,1501.3 1177.2,1502.7 1177.4,1509.0 1177.6,1516.4 1177.8,1515.6 1178.0,1519.4 1178.2,1521.5 1178.4,1522.6 1178.6,1526.8 1178.9,1525.7 1179.1,1528.1 1179.4,1532.4 1179.6,1535.2 1179.8,1537.3 1180.1,1539.1 1180.3,1539.6 1180.6,1545.2 1180.8,1546.1 1181.1,1549.6 1181.3,1549.6 1181.4,1546.4 1181.5,1556.3 1181.6,1551.1 1181.8,1559.1 1181.9,1559.4 1182.0,1563.4 1182.1,1564.3 1182.2,1566.9 1182.3,1570.3 1182.5,1572.9 1182.6,1572.6 1182.7,1571.1 1182.8,1577.2 1182.9,1582.3 1183.0,1581.5 1183.2,1586.5 1183.3,1587.1 1183.4,1588.1 1183.5,1594.9 1183.6,1598.2 1183.8,1596.6 1183.9,1599.0 1184.0,1603.4 1184.1,1603.6 1184.2,1603.0 1184.3,1606.2 1184.4,1612.8 1184.6,1614.5 1184.7,1613.7 1184.8,1615.3 1184.9,1620.0 1185.0,1618.4 1185.1,1622.6 1185.3,1625.5 1185.4,1622.8 1185.5,1631.7 1185.6,1634.3 1185.7,1637.2 1185.8,1634.0 1186.0,1636.6 1186.1,1639.8 1186.2,1641.0 1186.3,1650.6 1186.4,1646.2 1186.5,1649.9 1186.7,1653.2 1186.8,1656.0 1186.9,1660.4 1187.0,1659.5 1187.2,1654.9 1187.5,1656.9 1187.7,1653.1 1188.0,1647.9 1188.2,1648.6 1188.5,1642.9 1188.7,1647.3 1188.9,1639.9 1189.2,1641.4 1189.4,1639.8 1189.7,1633.4 1189.9,1632.5 1190.1,1628.2 1190.3,1628.1 1190.5,1623.2 1190.7,1625.1 1190.9,1621.2 1191.1,1616.8 1191.3,1614.6 1191.6,1615.3 1191.8,1608.2 1192.0,1612.8 1192.2,1605.0 1192.4,1604.0 1192.6,1600.0 1192.8,1599.7 1193.1,1600.9 1193.4,1596.9 1193.7,1595.6 1194.0,1591.9 1194.2,1588.3 1194.5,1589.5 1194.8,1585.0 1195.1,1582.2 1195.4,1580.2 1195.7,1576.6 1195.9,1575.9 1196.1,1572.6 1196.3,1569.3 1196.5,1563.9 1196.7,1569.5 1196.9,1559.9 1197.1,1555.7 1197.2,1556.5 1197.4,1560.0 1197.6,1556.1 1197.8,1549.8 1198.0,1549.4 1198.2,1546.5 1198.4,1539.9 1198.6,1541.9 1198.8,1538.9 1198.9,1538.0 1199.1,1537.7 1199.3,1530.2 1199.5,1525.6 1199.6,1524.8 1199.8,1526.7 1200.0,1523.9 1200.1,1521.8 1200.3,1519.5 1200.5,1516.1 1200.6,1511.7 1200.8,1513.4 1201.0,1511.0 1201.2,1509.1 1201.3,1508.3 1201.5,1503.3 1202.8,1498.0 1204.1,1493.0 1205.4,1495.6 1209.2,1495.6 1209.4,1489.5 1209.6,1495.9 1209.8,1487.0 1210.0,1487.6 1210.2,1484.5 1210.4,1484.0 1210.7,1487.2 1210.9,1476.8 1211.1,1475.4 1211.3,1472.2 1211.5,1471.9 1211.7,1470.3 1211.9,1464.8 1212.1,1464.7 1212.2,1469.8 1212.4,1471.6 1212.5,1472.3 1212.7,1473.3 1212.8,1475.2 1212.9,1474.3 1213.1,1481.6 1213.2,1480.2 1213.3,1483.4 1213.5,1488.9 1213.6,1486.9 1213.8,1490.0 1213.9,1495.2 1214.0,1499.7 1214.2,1496.3 1214.3,1502.4 1214.4,1500.7 1214.6,1505.2 1214.7,1507.7 1214.9,1506.3 1215.0,1511.0 1215.3,1515.6 1215.6,1519.6 1215.9,1518.0 1216.2,1520.8 1216.5,1520.0 1216.7,1528.8 1217.0,1527.3 1217.3,1526.7 1217.6,1533.5 1217.9,1534.1 1218.1,1528.7 1218.3,1528.2 1218.5,1522.8 1218.7,1528.3 1218.9,1528.0 1219.1,1519.5 1219.3,1517.3 1219.6,1515.2 1219.8,1513.1 1220.0,1513.3 1220.2,1513.1 1220.4,1505.5 1220.6,1506.5 1220.8,1503.3 1220.9,1497.1 1221.0,1502.2 1221.1,1496.4 1221.2,1492.9 1221.4,1495.5 1221.5,1489.7 1221.6,1490.7 1221.7,1487.8 1221.8,1486.9 1221.9,1479.3 1222.0,1478.9 1222.1,1477.4 1222.2,1473.9 1222.4,1475.5 1222.5,1468.3 1222.6,1469.9 1222.7,1468.4 1222.8,1458.9 1222.9,1458.9 1223.0,1456.8 1223.1,1455.3 1223.3,1455.2 1223.4,1451.7 1223.5,1450.0 1223.6,1446.6 1223.7,1445.4 1224.0,1447.5 1224.3,1451.1 1224.6,1454.0 1224.9,1453.0 1225.2,1456.7 1225.4,1457.6 1225.7,1461.2 1226.0,1460.8 1226.3,1468.4 1226.6,1468.6 1226.8,1472.3 1226.9,1472.8 1227.1,1473.8 1227.2,1476.5 1227.4,1478.3 1227.5,1478.6 1227.7,1487.8 1227.8,1493.7 1228.0,1486.0 1228.1,1488.3 1228.3,1494.4 1228.4,1496.7 1228.6,1494.1 1228.7,1495.6 1228.9,1503.3 1229.0,1499.9 1229.2,1509.7 1229.3,1507.7 1229.5,1511.0 1230.3,1508.9 1231.0,1506.4 1231.8,1502.8 1232.5,1501.4 1233.3,1499.4 1233.7,1501.1 1234.1,1506.8 1234.5,1506.2 1234.9,1508.6 1235.2,1509.8 1235.6,1511.9 1236.0,1514.0 1236.4,1518.0 1236.8,1524.3 1237.2,1522.6 1237.4,1527.3 1237.6,1527.6 1237.9,1533.1 1238.1,1533.9 1238.3,1534.4 1238.5,1535.8 1238.8,1536.0 1239.0,1541.3 1239.2,1542.3 1239.4,1541.8 1239.7,1544.7 1239.9,1554.0 1240.1,1552.5 1240.3,1555.4 1240.6,1557.0 1240.8,1557.8 1241.0,1561.1 1241.2,1564.4 1241.3,1568.0 1241.5,1567.1 1241.6,1571.2 1241.8,1574.5 1241.9,1573.5 1242.1,1577.1 1242.2,1577.4 1242.4,1582.6 1242.5,1582.7 1242.7,1588.2 1242.8,1586.3 1243.0,1593.9 1243.1,1591.7 1243.3,1592.8 1243.4,1594.9 1243.6,1600.6 1243.7,1599.5 1243.9,1603.6 1244.1,1605.3 1244.2,1601.9 1244.4,1598.0 1244.5,1591.5 1244.7,1592.4 1244.8,1588.6 1245.0,1584.0 1245.1,1586.6 1245.3,1588.3 1245.4,1580.1 1245.6,1580.8 1245.7,1579.6 1245.9,1572.4 1246.0,1571.5 1246.2,1570.6 1246.3,1568.8 1246.5,1563.1 1246.6,1563.8 1246.8,1561.1 1247.1,1563.2 1247.4,1567.8 1247.7,1564.5 1248.0,1569.1 1248.2,1571.6 1248.5,1574.3 1248.8,1578.9 1249.1,1578.3 1249.4,1588.0 1249.7,1584.3 1249.8,1585.0 1250.0,1590.7 1250.1,1593.4 1250.2,1595.5 1250.4,1595.2 1250.5,1596.1 1250.6,1599.7 1250.8,1604.0 1250.9,1605.1 1251.0,1608.4 1251.2,1610.6 1251.3,1609.7 1251.4,1611.8 1251.5,1619.4 1251.7,1617.4 1251.8,1617.3 1251.9,1627.1 1252.1,1623.5 1252.2,1625.5 1252.3,1632.0 1252.5,1629.6 1252.6,1634.4 1252.9,1634.8 1253.2,1641.4 1253.6,1639.7 1253.9,1649.3 1254.2,1646.4 1254.5,1654.4 1254.9,1651.2 1255.2,1653.4 1255.5,1655.6 1257.5,1652.3 1259.4,1651.8 1259.5,1649.0 1259.7,1646.2 1259.8,1645.0 1259.9,1644.4 1260.0,1637.7 1260.2,1636.2 1260.3,1631.3 1260.4,1637.0 1260.5,1631.2 1260.7,1629.1 1260.8,1626.8 1260.9,1626.8 1261.0,1623.1 1261.2,1622.0 1261.3,1617.5 1261.4,1615.3 1261.5,1613.2 1261.7,1606.9 1261.8,1611.2 1261.9,1603.0 1262.0,1602.0 1262.2,1603.4 1262.3,1599.7 1262.5,1602.1 1262.6,1606.0 1262.8,1610.2 1262.9,1612.7 1263.1,1613.9 1263.2,1612.6 1263.4,1619.9 1263.5,1615.7 1263.7,1619.6 1263.8,1624.3 1264.0,1623.8 1264.1,1626.3 1264.3,1628.0 1264.4,1634.0 1264.6,1627.8 1264.7,1638.3 1264.9,1640.1 1265.0,1639.8 1265.2,1642.2 1265.4,1641.2 1265.6,1635.7 1265.8,1638.0 1266.0,1640.1 1266.2,1629.1 1266.4,1632.0 1266.6,1626.6 1266.8,1623.8 1267.0,1621.3 1267.2,1619.7 1267.4,1615.2 1267.6,1612.7 1267.8,1617.2 1268.0,1611.3 1268.2,1608.9 1268.4,1607.9 1268.6,1605.0 1268.8,1603.1 1269.0,1596.4 1269.2,1595.3 1269.4,1596.5 1269.5,1595.0 1269.7,1588.0 1269.9,1586.9 1270.1,1583.5 1270.3,1585.0 1270.5,1582.0 1270.7,1579.0 1270.9,1576.6 1271.5,1573.0 1272.0,1572.9 1272.6,1570.0 1273.1,1566.1 1273.7,1566.3 1274.2,1561.9 1274.8,1561.1 1276.7,1565.1 1278.6,1565.0 1279.0,1564.1 1279.4,1558.9 1279.8,1559.4 1280.2,1555.9 1280.5,1551.9 1280.9,1549.1 1281.3,1545.2 1281.7,1544.0 1282.1,1545.0 1282.5,1541.9 1284.5,1546.5 1286.4,1545.7 1286.9,1546.5 1287.5,1550.5 1288.0,1553.1 1288.6,1556.2 1289.1,1557.7 1289.7,1561.6 1290.2,1561.1 1290.4,1560.5 1290.6,1554.8 1290.7,1555.1 1290.9,1546.8 1291.1,1549.3 1291.3,1547.4 1291.5,1546.4 1291.7,1542.1 1291.8,1542.3 1292.0,1541.1 1292.2,1534.1 1292.4,1532.5 1292.6,1531.9 1292.7,1530.2 1292.9,1527.1 1293.1,1524.5 1293.4,1524.1 1293.7,1517.5 1294.0,1519.5 1294.3,1518.2 1294.6,1515.8 1294.9,1512.1 1295.2,1508.4 1295.5,1507.6 1295.8,1504.3 1296.1,1498.8 1296.4,1498.7 1296.7,1497.7 1297.0,1495.6 1297.4,1496.8 1297.8,1498.2 1298.1,1502.0 1298.5,1504.0 1298.9,1507.3 1299.3,1509.4 1299.7,1512.1 1300.0,1516.3 1300.4,1516.7 1300.8,1518.7 1301.1,1521.8 1301.5,1520.5 1301.8,1519.0 1302.1,1526.8 1302.4,1531.4 1302.8,1531.5 1303.1,1533.1 1303.4,1534.0 1303.7,1540.9 1304.0,1540.0 1304.4,1544.0 1304.7,1545.7 1308.5,1547.6 1309.0,1552.3 1309.5,1553.3 1310.0,1559.3 1310.4,1556.3 1310.9,1561.0 1311.4,1561.1 1311.5,1564.8 1311.6,1564.1 1311.7,1567.8 1311.8,1568.7 1311.9,1569.9 1312.0,1575.0 1312.1,1574.8 1312.2,1582.5 1312.3,1579.3 1312.4,1582.0 1312.5,1585.6 1312.6,1586.4 1312.7,1589.9 1312.8,1590.7 1313.0,1591.1 1313.1,1591.1 1313.2,1595.8 1313.3,1604.2 1313.4,1604.0 1313.5,1605.6 1313.6,1606.4 1313.7,1609.3 1313.8,1612.5 1313.9,1611.0 1314.0,1614.5 1314.1,1616.5 1314.2,1623.5 1314.3,1622.9 1314.4,1622.8 1314.5,1629.9 1314.6,1628.5 1314.7,1637.7 1314.8,1633.8 1314.9,1636.2 1315.0,1641.3 1315.1,1642.5 1315.2,1644.8 1315.3,1642.6 1315.3,1649.7 1315.4,1653.1 1315.5,1651.3 1315.6,1652.7 1315.7,1653.6 1315.8,1660.4 1315.9,1661.0 1316.0,1662.6 1316.1,1662.1 1316.2,1670.6 1316.3,1669.2 1316.6,1669.0 1317.0,1664.8 1317.3,1665.9 1317.7,1658.4 1318.0,1660.3 1318.4,1654.0 1318.8,1657.1 1319.1,1651.8 1319.5,1648.8 1319.8,1649.7 1320.2,1643.6 1320.5,1643.0 1320.9,1642.2 1321.3,1635.3 1321.6,1635.1 1322.0,1632.5 1322.7,1633.1 1323.5,1639.2 1324.2,1638.4 1324.9,1642.2 1325.3,1643.8 1325.6,1646.6 1326.0,1652.0 1326.3,1649.5 1326.7,1654.1 1327.1,1655.9 1327.4,1657.8 1327.8,1661.4 1327.9,1657.4 1328.1,1656.5 1328.2,1654.9 1328.4,1648.8 1328.5,1650.4 1328.6,1645.0 1328.8,1645.4 1328.9,1648.1 1329.0,1638.6 1329.2,1638.3 1329.3,1635.6 1329.5,1636.0 1329.6,1630.5 1329.7,1625.3 1329.9,1623.4 1330.0,1625.1 1330.1,1622.9 1330.3,1622.4 1330.4,1616.6 1330.6,1617.0 1330.7,1613.2 1330.8,1608.6 1331.0,1611.5 1331.1,1606.2 1331.3,1602.5 1331.4,1602.1 1331.5,1603.3 1331.7,1595.3 1331.8,1592.1 1331.9,1590.3 1332.1,1587.7 1332.2,1587.8 1332.4,1586.4 1332.5,1583.0 1332.6,1581.5 1332.8,1581.4 1332.9,1575.8 1333.0,1571.4 1333.2,1566.9 1333.3,1570.1 1333.5,1565.8 1333.6,1565.0 1333.7,1562.2 1333.8,1561.3 1334.0,1559.2 1334.1,1552.4 1334.2,1551.5 1334.3,1551.4 1334.4,1548.7 1334.5,1549.2 1334.7,1543.3 1334.8,1537.6 1334.9,1542.4 1335.0,1534.0 1335.1,1533.1 1335.3,1533.8 1335.4,1528.4 1335.5,1528.4"/>
</g>
<g fill="none" stroke="#1c1c1c" stroke-linejoin="round">
<path stroke-width="3.0" stroke-dasharray="11 5" d="M176.1,723.9 C177.0,725.9 179.6,731.6 181.4,735.7 C183.2,739.8 185.0,744.9 186.8,748.6 C188.6,752.4 190.1,756.1 192.1,758.2 C194.1,760.3 196.4,761.6 198.6,761.4 C200.8,761.2 202.9,758.4 205.0,757.1 C207.1,755.9 209.2,754.6 211.4,753.9 C213.6,753.2 215.8,752.0 217.9,752.9 C220.1,753.8 222.0,758.6 224.3,759.3 C226.7,760.0 229.4,758.2 232.0,757.0 C234.6,755.8 237.7,753.6 240.0,752.0 C242.3,750.4 243.0,748.2 245.7,747.5 C248.4,746.8 253.5,747.0 256.4,747.5 C259.3,748.0 260.8,750.7 262.9,750.7 C265.0,750.7 267.0,747.9 269.3,747.5 C271.6,747.1 274.3,747.2 276.8,748.6 C279.3,750.0 281.6,752.7 284.3,756.1 C287.0,759.5 290.4,767.6 292.9,768.9 C295.4,770.1 297.2,767.7 299.3,763.6 C301.4,759.5 303.6,750.0 305.7,744.3 C307.8,738.6 310.0,732.5 312.1,729.3 C314.2,726.1 316.5,723.9 318.6,725.0 C320.8,726.1 322.9,730.4 325.0,735.7 C327.1,741.1 329.2,751.4 331.4,757.1 C333.5,762.8 335.4,768.2 337.9,770.0 C340.4,771.8 343.9,768.6 346.4,767.9 C348.9,767.2 350.8,766.8 352.9,765.7 C355.0,764.6 357.2,763.0 359.3,761.4 C361.4,759.8 363.6,758.2 365.7,756.1 C367.8,754.0 370.0,751.3 372.1,748.6 C374.2,745.9 376.5,742.3 378.6,740.0 C380.8,737.7 382.9,735.0 385.0,734.6 C387.1,734.2 389.2,736.1 391.4,737.9 C393.5,739.7 395.6,743.3 397.9,745.4 C400.2,747.5 402.9,750.0 405.4,750.7 C407.9,751.4 410.6,748.9 412.9,749.6 C415.2,750.3 417.2,752.1 419.3,755.0 C421.4,757.9 423.6,765.2 425.7,766.8 C427.8,768.4 430.0,765.7 432.1,764.6 C434.2,763.5 436.1,762.7 438.6,760.4 C441.1,758.1 444.7,752.7 447.1,750.7 C449.5,748.7 450.9,748.1 452.9,748.6 C454.9,749.1 457.2,752.1 459.3,753.9 C461.4,755.7 463.2,758.2 465.7,759.3 C468.2,760.4 471.4,760.8 474.3,760.4 C477.2,760.0 479.3,757.6 482.9,757.1 C486.5,756.6 491.8,756.4 495.7,757.1 C499.6,757.8 503.2,760.9 506.4,761.4 C509.6,761.9 511.8,761.1 515.0,760.4 C518.2,759.7 522.5,757.8 525.7,757.1 C528.9,756.4 531.8,757.5 534.3,756.1 C536.8,754.7 538.8,750.5 540.7,748.6 C542.7,746.8 544.1,746.1 546.0,745.0 C547.9,743.9 550.2,743.5 552.0,742.0 C553.8,740.5 555.2,736.8 557.0,736.0 C558.8,735.2 561.1,736.3 563.0,737.0 C564.9,737.7 567.0,736.8 568.6,740.0 C570.2,743.2 570.8,752.4 572.9,756.1 C575.0,759.9 578.5,760.4 581.4,762.5 C584.2,764.6 587.5,767.1 590.0,768.9 C592.5,770.7 593.9,773.0 596.4,773.2 C598.9,773.4 602.1,772.0 605.0,770.0 C607.9,768.0 611.1,764.6 613.6,761.4 C616.1,758.2 617.9,753.6 620.0,750.7 C622.1,747.9 624.2,744.8 626.4,744.3 C628.5,743.8 631.1,745.7 632.9,747.5 C634.7,749.3 635.0,753.0 637.1,755.0 C639.2,757.0 642.8,758.8 645.7,759.3 C648.6,759.8 651.8,758.9 654.3,758.2 C656.8,757.5 658.2,755.5 660.7,755.0 C663.2,754.5 666.4,755.2 669.3,755.0 C672.2,754.8 675.4,753.5 677.9,753.9 C680.4,754.2 682.2,755.7 684.3,757.1 C686.4,758.5 688.6,760.7 690.7,762.5 C692.8,764.3 695.0,767.2 697.1,767.9 C699.2,768.6 701.5,768.6 703.6,766.8 C705.8,765.0 707.9,759.8 710.0,757.1 C712.1,754.4 714.2,751.8 716.4,750.7 C718.5,749.6 721.1,750.2 722.9,750.7 C724.7,751.2 725.3,752.7 727.1,753.9 C728.9,755.1 731.5,757.0 733.6,757.9 C735.8,758.8 738.1,759.4 740.0,759.3 C741.9,759.1 743.1,758.4 745.0,757.0 C746.9,755.6 748.8,751.7 751.1,751.0 C753.4,750.3 755.9,751.3 758.6,753.0 C761.3,754.7 764.2,760.0 767.1,761.4 C770.0,762.8 772.8,761.8 775.7,761.4 C778.6,761.0 781.1,759.5 784.3,759.3 C787.5,759.1 791.4,760.0 795.0,760.4 C798.6,760.8 802.1,762.3 805.7,761.4 C809.3,760.5 812.5,756.8 816.4,755.0 C820.3,753.2 825.4,750.9 829.3,750.7 C833.2,750.5 836.4,752.8 840.0,753.9 C843.6,755.0 847.5,757.1 850.7,757.1 C853.9,757.1 856.1,755.3 859.3,753.9 C862.5,752.5 866.8,749.5 870.0,748.6 C873.2,747.7 876.1,747.4 878.6,748.6 C881.1,749.8 882.9,752.4 885.0,756.0 C887.1,759.6 889.2,765.3 891.4,770.0 C893.5,774.7 896.1,780.8 897.9,784.0 C899.7,787.2 900.2,788.8 902.0,789.0 C903.8,789.2 906.4,787.8 908.6,785.0 C910.8,782.2 912.5,778.8 915.0,772.0 C917.5,765.2 921.1,750.7 923.6,744.3 C926.1,737.9 927.9,736.1 930.0,733.6 C932.1,731.1 934.2,728.9 936.4,729.3 C938.5,729.6 940.8,732.1 942.9,735.7 C945.0,739.3 947.2,745.7 949.3,750.7 C951.4,755.7 953.6,763.0 955.7,765.7 C957.8,768.4 960.0,767.9 962.1,766.8 C964.2,765.7 966.5,762.0 968.6,759.3 C970.8,756.6 972.9,752.0 975.0,750.7 C977.1,749.5 979.2,750.0 981.4,751.8 C983.5,753.6 985.8,758.2 987.9,761.4 C990.0,764.6 991.4,769.5 994.3,771.1 C997.1,772.7 1001.8,771.3 1005.0,771.1 C1008.2,770.9 1011.0,769.6 1013.6,770.0 C1016.2,770.4 1017.7,773.0 1020.6,773.4 C1023.5,773.8 1027.9,771.2 1030.9,772.1 C1033.9,773.0 1035.6,776.9 1038.6,778.6 C1041.6,780.3 1045.9,783.7 1048.9,782.4 C1051.9,781.1 1054.0,778.8 1056.6,770.9 C1059.2,763.0 1061.7,743.5 1064.3,734.9 C1066.9,726.3 1069.7,720.3 1072.0,719.4 C1074.3,718.5 1076.2,723.7 1078.4,729.7 C1080.6,735.7 1082.5,747.9 1084.9,755.4 C1087.3,762.9 1089.6,773.0 1092.6,774.7 C1095.6,776.4 1099.1,768.1 1102.9,765.7 C1106.8,763.4 1111.0,762.3 1115.7,760.6 C1120.4,758.9 1127.2,753.3 1131.1,755.4 C1135.0,757.5 1136.1,769.1 1138.9,773.4 C1141.7,777.7 1145.3,781.5 1147.9,781.1 C1150.5,780.7 1152.0,776.5 1154.3,770.9 C1156.6,765.3 1159.4,752.4 1162.0,747.7 C1164.6,743.0 1166.7,742.0 1169.7,742.6 C1172.7,743.2 1176.1,748.8 1180.0,751.6 C1183.9,754.4 1188.6,756.5 1192.9,759.3 C1197.2,762.1 1201.4,766.2 1205.7,768.3 C1210.0,770.4 1214.3,773.0 1218.6,772.1 C1222.9,771.2 1227.1,765.5 1231.4,763.1 C1235.7,760.8 1240.0,758.9 1244.3,758.0 C1248.6,757.1 1252.8,758.9 1257.1,758.0 C1261.4,757.1 1265.7,752.9 1270.0,752.9 C1274.3,752.9 1278.6,757.4 1282.9,758.0 C1287.2,758.6 1291.9,757.4 1295.7,756.7 C1299.5,756.1 1303.0,753.9 1306.0,754.1 C1309.0,754.3 1310.7,755.9 1313.7,758.0 C1316.7,760.1 1320.6,764.6 1324.0,767.0 C1327.4,769.4 1330.9,771.7 1334.3,772.1 C1337.7,772.5 1342.9,770.0 1344.6,769.6"/>
<polyline stroke-width="3.1" stroke-dasharray="8 4" points="172.9,1204.3 175.4,1182.0 179.7,1178.6 183.1,1152.9 187.4,1101.4 189.1,1092.9 194.3,1108.3 196.9,1118.6 200.3,1144.3 203.7,1161.4 208.0,1171.7 213.1,1170.0 217.4,1146.0 220.0,1161.4 223.4,1170.0 226.9,1110.0 230.3,1094.6 233.7,1115.1 238.9,1108.3 242.3,1123.7 244.9,1152.9 248.3,1190.6 250.9,1158.0 254.3,1127.1 259.4,1146.0 264.6,1144.3 268.0,1170.0 273.1,1204.3 276.6,1207.7 280.0,1178.6 283.4,1135.7 286.9,1110.0 292.0,1096.3 295.4,1087.7 300.6,1101.4 304.9,1115.1 309.1,1122.0 314.3,1127.1 317.7,1144.3 320.3,1152.9 324.6,1144.3 329.7,1118.6 333.1,1098.0 336.6,1084.3 341.7,1089.4 346.9,1099.7 350.3,1113.4 353.7,1154.6 357.1,1127.1 361.4,1111.7 365.7,1130.6 369.1,1144.3 373.4,1135.7 377.7,1147.7 382.9,1161.4 386.3,1171.7 389.7,1144.3 393.1,1122.0 398.3,1116.9 402.0,1116.9 405.4,1096.3 408.0,1118.6 410.6,1166.6 414.0,1206.0 417.4,1170.0 420.9,1135.7 426.0,1110.0 429.4,1087.7 432.9,1087.7 436.3,1104.9 439.7,1127.1 442.3,1137.4 446.6,1115.1 449.1,1103.1 455.1,1101.4 460.3,1111.7 465.4,1111.7 470.6,1120.3 474.0,1122.0 477.4,1080.9 481.7,1058.6 486.0,1074.0 491.1,1067.1 494.6,1031.1 497.1,1050.0 499.7,1080.9 502.3,1103.1 506.6,1084.3 510.0,1067.1 513.4,1084.3 516.0,1118.6 520.3,1084.3 523.7,1070.6 527.1,1080.9 530.6,1099.7 537.4,1099.7 540.9,1104.9 543.4,1135.7 546.0,1170.0 547.7,1190.6 552.0,1161.4 554.6,1144.3 559.7,1142.6 564.9,1130.6 571.7,1101.4 576.9,1089.4 582.0,1092.9 587.1,1111.7 591.4,1127.1 594.0,1152.9 597.4,1101.4 601.7,1060.3 604.3,1043.1 607.7,1072.3 612.9,1099.7 616.3,1118.6 619.7,1163.1 623.1,1135.7 626.9,1120.3 630.3,1152.9 632.9,1171.7 636.3,1140.9 639.7,1110.0 643.1,1137.4 645.7,1123.7 649.1,1096.3 651.7,1110.0 654.3,1139.1 656.9,1168.3 659.4,1120.3 662.9,1091.1 667.0,1082.0 671.4,1080.9 676.6,1096.3 680.0,1139.1 683.4,1161.4 685.1,1211.1 687.7,1178.6 690.3,1127.1 693.7,1099.7 698.0,1086.0 702.3,1092.9 705.7,1110.0 709.1,1135.7 712.6,1178.6 713.4,1195.7 717.7,1161.4 721.1,1140.9 724.6,1152.9 729.7,1147.7 734.9,1151.1 740.0,1171.7 743.4,1194.0 746.9,1170.0 750.3,1146.0 755.4,1152.9 760.6,1152.9 764.0,1161.4 767.4,1199.1 770.9,1178.6 774.3,1152.9 777.7,1137.4 782.9,1132.3 786.3,1140.9 789.7,1158.0 793.1,1171.7 796.6,1144.3 800.0,1120.3 805.1,1127.1 810.3,1125.4 813.7,1135.7 817.1,1161.4 818.9,1183.7 822.3,1144.3 825.7,1120.3 829.1,1101.4 834.3,1108.3 837.7,1113.4 841.1,1127.1 844.6,1161.4 847.1,1197.4 850.0,1187.1 853.4,1137.4 856.9,1123.7 860.3,1130.6 863.7,1140.9 868.9,1134.0 874.0,1132.3 879.1,1134.0 884.3,1137.4 889.4,1127.1 895.4,1120.3 899.7,1096.3 904.9,1062.0 908.3,1051.7 911.7,1075.7 915.1,1101.4 918.6,1113.4 922.0,1120.3 925.4,1144.3 928.9,1139.1 932.3,1127.1 935.7,1151.1 939.1,1170.0 941.7,1192.3 944.3,1161.4 947.7,1130.6 951.1,1096.3 952.9,1067.1 956.3,1055.1 960.6,1067.1 964.0,1089.4 966.6,1113.4 970.0,1152.9 972.6,1171.7 976.9,1144.3 980.3,1118.6 985.4,1110.0 990.6,1118.6 994.0,1135.7 997.4,1161.4 999.1,1182.0 1002.6,1158.0 1007.7,1158.0 1012.9,1161.4 1018.0,1171.7 1021.4,1176.9 1024.9,1168.3 1030.0,1164.9 1033.4,1171.7 1036.9,1152.9 1038.6,1127.1 1042.0,1099.7 1045.4,1072.3 1048.9,1051.7 1052.3,1067.1 1055.7,1092.9 1060.9,1106.6 1066.0,1116.9 1069.4,1099.7 1072.9,1110.0 1076.3,1113.4 1079.7,1086.0 1083.1,1038.0 1086.6,1050.0 1088.7,1076.0 1090.0,1120.0 1093.0,1140.0 1097.0,1148.0 1100.0,1160.0 1104.0,1156.0 1108.0,1130.0 1112.0,1116.0 1116.0,1132.0 1120.0,1124.0 1124.0,1134.0 1128.0,1124.0 1132.0,1152.0 1136.0,1144.0 1140.0,1120.0 1144.0,1114.0 1148.0,1090.0 1153.0,1092.0 1157.0,1114.0 1161.0,1136.0 1164.0,1144.0 1168.0,1152.0 1172.0,1148.0 1176.0,1148.0 1180.0,1156.0 1184.0,1172.0 1188.0,1184.0 1192.0,1182.0 1196.0,1180.0 1200.0,1206.0 1204.0,1178.0 1208.0,1132.0 1212.0,1124.0 1216.0,1112.0 1220.0,1116.0 1224.0,1124.0 1228.0,1168.0 1232.0,1144.0 1236.0,1144.0 1240.0,1178.0 1244.0,1180.0 1248.0,1196.0 1252.0,1204.0 1256.0,1206.0 1260.0,1218.0 1264.0,1210.0 1268.0,1204.0 1272.0,1212.0 1276.0,1204.0 1280.0,1198.0 1286.0,1196.0 1290.0,1188.0 1294.0,1192.0 1298.0,1204.0 1302.0,1210.0 1306.0,1224.0 1308.0,1232.0 1312.0,1200.0 1316.0,1180.0 1320.0,1168.0 1326.0,1158.0 1332.0,1170.0 1336.0,1196.0 1339.0,1212.0"/>
<polyline stroke-width="3.1" stroke-dasharray="8 4" points="169.4,1594.3 173.2,1577.4 177.0,1549.1 179.8,1535.9 183.6,1543.4 187.3,1524.6 191.1,1524.6 194.9,1532.1 197.7,1551.0 200.5,1573.6 204.3,1532.1 207.1,1551.0 210.9,1560.4 214.7,1535.9 218.4,1524.6 222.2,1543.4 226.9,1530.2 231.6,1520.8 236.3,1528.3 241.1,1533.9 244.8,1520.8 250.5,1526.5 254.3,1515.1 257.1,1502.0 260.8,1520.8 263.7,1539.7 266.5,1560.4 269.3,1564.2 274.0,1562.3 277.8,1547.2 281.6,1524.6 286.3,1513.3 292.0,1509.5 295.7,1502.0 299.5,1524.6 303.3,1543.4 308.9,1554.7 312.7,1562.3 316.5,1558.5 320.2,1539.7 324.0,1513.3 327.8,1502.0 333.4,1511.4 339.1,1517.0 342.8,1524.6 346.6,1547.2 350.4,1530.2 354.2,1533.9 357.9,1539.7 362.6,1539.7 366.4,1533.9 369.2,1551.0 373.0,1566.0 376.8,1564.2 382.4,1551.0 388.1,1535.9 390.0,1530.6 393.4,1513.4 396.9,1523.7 399.4,1537.4 402.0,1551.1 405.4,1551.1 408.9,1549.4 412.3,1547.7 415.7,1527.1 419.1,1516.9 424.3,1516.9 429.4,1515.1 434.6,1525.4 438.0,1539.1 441.4,1546.0 444.9,1537.4 448.3,1542.6 453.4,1522.0 456.9,1534.0 460.3,1540.9 463.7,1528.9 467.1,1522.0 470.6,1532.3 474.0,1539.1 477.4,1522.0 480.9,1518.6 484.3,1542.6 488.0,1553.0 492.0,1548.0 496.0,1540.0 499.7,1537.4 504.9,1547.7 508.3,1549.4 513.4,1542.6 518.6,1552.9 520.3,1566.6 525.4,1546.0 528.9,1535.7 534.0,1542.6 539.1,1549.4 542.6,1556.3 546.0,1563.1 551.1,1566.6 554.6,1561.4 558.0,1542.6 561.4,1535.7 564.9,1528.9 568.3,1520.3 573.4,1522.0 578.6,1520.3 583.7,1518.6 588.0,1513.4 592.3,1503.1 595.7,1515.1 599.1,1518.6 603.4,1516.9 606.0,1528.9 611.1,1542.6 614.6,1549.4 619.7,1556.3 624.3,1556.3 627.7,1570.0 632.0,1546.0 635.4,1535.7 638.9,1539.1 643.1,1532.3 646.6,1549.4 650.9,1564.9 656.0,1566.6 660.3,1568.3 663.7,1552.9 666.3,1535.7 669.7,1527.1 673.1,1546.0 676.6,1559.7 680.0,1570.0 683.4,1556.3 688.6,1535.7 692.0,1525.4 695.4,1518.6 698.9,1522.0 702.3,1528.9 705.7,1540.9 710.0,1535.7 713.4,1528.9 716.9,1539.1 720.3,1532.3 723.7,1525.4 726.3,1516.9 729.7,1539.1 733.1,1546.0 740.0,1546.0 746.9,1549.4 752.0,1556.3 755.4,1566.6 758.9,1561.4 764.0,1570.0 769.1,1556.3 774.3,1546.0 779.4,1546.0 784.6,1546.0 789.7,1535.7 793.1,1525.4 796.6,1522.0 800.0,1510.0 801.7,1498.0 805.1,1515.1 808.6,1532.3 812.0,1540.9 815.4,1532.3 820.6,1532.3 825.7,1527.1 830.9,1525.4 834.3,1539.1 837.7,1549.4 842.9,1549.4 848.0,1542.6 853.4,1536.3 856.9,1529.4 860.3,1539.7 863.7,1553.4 867.1,1567.1 872.3,1567.1 877.0,1572.0 881.0,1572.0 885.0,1560.0 889.0,1530.0 893.0,1505.0 896.3,1505.4 901.4,1522.6 906.6,1529.4 910.0,1550.0 913.4,1574.0 916.9,1580.9 920.3,1575.7 925.0,1572.0 930.6,1570.6 935.7,1565.4 939.1,1553.4 943.4,1541.4 947.7,1526.0 951.1,1498.6 953.7,1479.7 956.3,1498.6 958.0,1524.3 961.4,1550.0 964.9,1575.7 968.3,1592.9 971.7,1603.1 975.1,1584.3 978.6,1558.6 982.0,1538.0 985.4,1519.1 988.9,1532.9 992.3,1558.6 995.7,1563.7 1000.9,1560.3 1006.0,1563.7 1011.1,1548.3 1016.3,1546.6 1019.7,1544.9 1023.1,1556.9 1026.6,1570.6 1030.0,1562.0 1033.4,1541.4 1036.9,1522.6 1040.3,1515.7 1043.7,1510.6 1048.0,1505.4 1051.4,1512.3 1054.9,1529.4 1058.3,1550.0 1061.7,1570.6 1064.3,1587.7 1066.9,1599.7 1070.3,1580.9 1073.7,1556.9 1077.1,1532.9 1080.0,1516.8 1085.8,1509.1 1088.7,1522.6 1090.6,1545.7 1094.5,1574.6 1099.3,1576.6 1103.1,1561.1 1107.0,1549.6 1112.8,1543.8 1117.6,1541.9 1121.5,1559.2 1126.3,1545.7 1130.1,1526.4 1134.0,1507.1 1137.9,1491.7 1141.7,1487.9 1146.5,1499.4 1150.4,1518.7 1154.3,1545.7 1157.1,1565.0 1161.0,1572.7 1164.9,1553.4 1168.7,1536.1 1174.5,1538.0 1178.4,1545.7 1182.2,1553.4 1186.1,1565.0 1189.9,1572.7 1193.8,1565.0 1198.6,1568.9 1202.5,1565.0 1205.4,1545.7 1208.3,1534.1 1212.1,1526.4 1215.0,1522.6 1218.9,1534.1 1222.7,1545.7 1226.6,1549.6 1230.4,1553.4 1234.3,1563.1 1238.1,1568.9 1242.0,1565.0 1245.9,1549.6 1249.7,1549.6 1253.6,1549.6 1257.4,1565.0 1261.3,1574.6 1265.2,1578.5 1269.0,1578.5 1272.9,1574.6 1278.6,1561.1 1284.4,1553.4 1288.3,1568.9 1294.1,1576.6 1299.9,1578.5 1304.7,1576.6 1309.5,1561.1 1314.3,1555.3 1319.1,1549.6 1323.0,1545.7 1328.8,1553.4 1332.6,1561.1"/>
</g>
</g>
</svg></body></html>
